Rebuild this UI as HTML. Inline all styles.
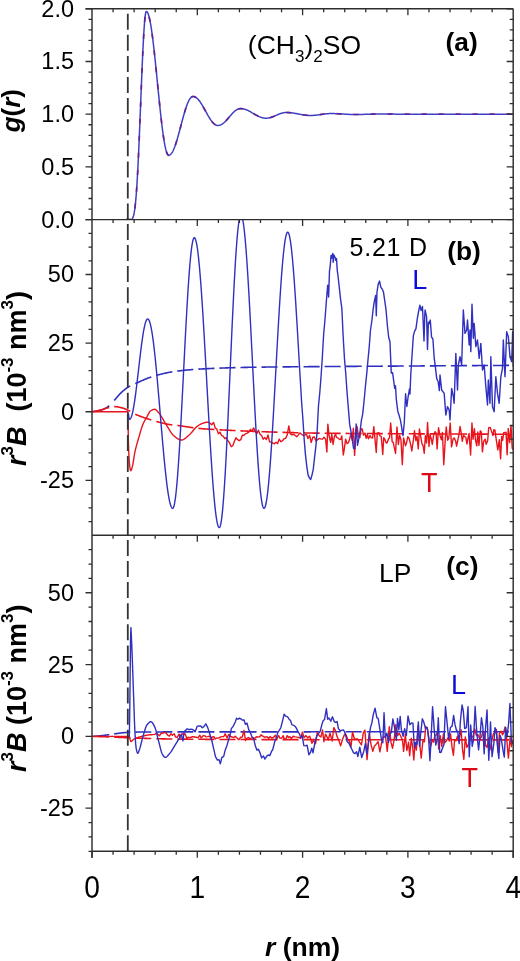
<!DOCTYPE html>
<html><head><meta charset="utf-8"><title>r3B plot</title>
<style>html,body{margin:0;padding:0;background:#fff;}svg{display:block;}</style>
</head><body>
<svg width="520" height="961" viewBox="0 0 520 961">
<rect width="520" height="961" fill="#fff"/>
<defs><clipPath id="ca"><rect x="92.0" y="8.8" width="421.20000000000005" height="210.79999999999998"/></clipPath><clipPath id="cb"><rect x="92.0" y="219.6" width="421.20000000000005" height="315.69999999999993"/></clipPath><clipPath id="cc"><rect x="92.0" y="535.3" width="421.20000000000005" height="316.0"/></clipPath></defs>
<g fill="none" stroke-linejoin="round" clip-path="url(#ca)">
<polyline points="126.00,219.60 126.44,219.60 126.88,219.60 127.31,219.60 127.75,219.60 128.19,219.60 128.62,219.60 129.06,219.60 129.50,219.60 129.90,219.60 130.30,219.59 130.70,219.57 131.10,219.50 131.50,219.35 131.90,219.09 132.30,218.67 132.70,218.03 133.10,217.12 133.50,215.89 133.90,214.28 134.30,212.22 134.70,209.68 135.10,206.59 135.50,202.92 135.90,198.64 136.30,193.72 136.70,188.14 137.10,181.92 137.50,175.05 137.90,167.56 138.30,159.49 138.70,150.89 139.10,141.82 139.50,132.36 139.90,122.59 140.30,112.60 140.70,102.51 141.10,92.41 141.50,82.43 141.90,72.69 142.30,63.30 142.70,54.37 143.10,46.03 143.50,38.39 143.90,31.54 144.30,25.58 144.70,20.58 145.10,16.62 145.50,13.75 145.90,12.02 146.30,11.44 146.71,11.55 147.11,11.90 147.52,12.49 147.93,13.30 148.34,14.35 148.74,15.62 149.15,17.11 149.56,18.82 149.97,20.73 150.37,22.85 150.78,25.17 151.19,27.68 151.59,30.37 152.00,33.24 152.41,36.26 152.82,39.44 153.22,42.77 153.63,46.22 154.04,49.80 154.45,53.49 154.85,57.27 155.26,61.14 155.67,65.08 156.07,69.08 156.48,73.13 156.89,77.21 157.30,81.32 157.70,85.42 158.11,89.53 158.52,93.61 158.93,97.66 159.33,101.66 159.74,105.60 160.15,109.47 160.55,113.25 160.96,116.94 161.37,120.52 161.78,123.97 162.18,127.30 162.59,130.48 163.00,133.51 163.41,136.37 163.81,139.06 164.22,141.57 164.63,143.89 165.03,146.01 165.44,147.93 165.85,149.63 166.26,151.12 166.66,152.39 167.07,153.44 167.48,154.25 167.89,154.84 168.29,155.19 168.70,155.31 169.10,155.27 169.51,155.14 169.91,154.94 170.32,154.66 170.72,154.30 171.13,153.87 171.53,153.35 171.94,152.76 172.34,152.10 172.75,151.37 173.16,150.56 173.56,149.69 173.97,148.75 174.37,147.75 174.77,146.69 175.18,145.58 175.58,144.41 175.99,143.18 176.39,141.92 176.80,140.60 177.20,139.25 177.61,137.86 178.01,136.44 178.42,134.99 178.82,133.51 179.23,132.01 179.63,130.50 180.04,128.97 180.44,127.44 180.85,125.90 181.25,124.36 181.66,122.83 182.06,121.30 182.47,119.79 182.88,118.29 183.28,116.81 183.69,115.36 184.09,113.94 184.50,112.55 184.90,111.20 185.31,109.88 185.71,108.61 186.12,107.39 186.52,106.22 186.93,105.11 187.33,104.05 187.73,103.05 188.14,102.11 188.54,101.24 188.95,100.43 189.35,99.70 189.76,99.04 190.16,98.45 190.57,97.93 190.97,97.49 191.38,97.14 191.78,96.85 192.19,96.65 192.59,96.53 193.00,96.49 193.40,96.51 193.81,96.57 194.21,96.66 194.61,96.79 195.02,96.96 195.42,97.16 195.82,97.39 196.23,97.67 196.63,97.97 197.03,98.31 197.44,98.69 197.84,99.09 198.24,99.52 198.65,99.99 199.05,100.48 199.45,101.00 199.85,101.55 200.26,102.11 200.66,102.71 201.06,103.32 201.47,103.95 201.87,104.60 202.27,105.27 202.68,105.95 203.08,106.65 203.48,107.35 203.89,108.07 204.29,108.79 204.69,109.52 205.10,110.25 205.50,110.99 205.90,111.72 206.31,112.45 206.71,113.18 207.11,113.90 207.52,114.62 207.92,115.32 208.32,116.02 208.73,116.70 209.13,117.37 209.53,118.02 209.94,118.65 210.34,119.26 210.74,119.86 211.15,120.43 211.55,120.97 211.95,121.49 212.35,121.98 212.76,122.45 213.16,122.88 213.56,123.28 213.97,123.66 214.37,124.00 214.77,124.30 215.18,124.58 215.58,124.81 215.98,125.02 216.39,125.18 216.79,125.31 217.19,125.40 217.60,125.46 218.00,125.48 218.40,125.46 218.80,125.42 219.21,125.36 219.61,125.27 220.01,125.15 220.41,125.00 220.81,124.84 221.21,124.64 221.62,124.43 222.02,124.19 222.42,123.92 222.82,123.64 223.22,123.33 223.62,123.01 224.03,122.66 224.43,122.30 224.83,121.93 225.23,121.53 225.63,121.12 226.04,120.70 226.44,120.27 226.84,119.83 227.24,119.38 227.64,118.92 228.04,118.46 228.45,117.99 228.85,117.52 229.25,117.05 229.65,116.57 230.05,116.10 230.46,115.63 230.86,115.17 231.26,114.71 231.66,114.26 232.06,113.82 232.46,113.39 232.87,112.97 233.27,112.56 233.67,112.17 234.07,111.79 234.47,111.43 234.88,111.08 235.28,110.76 235.68,110.45 236.08,110.17 236.48,109.91 236.88,109.67 237.29,109.45 237.69,109.26 238.09,109.09 238.49,108.94 238.89,108.83 239.29,108.73 239.70,108.67 240.10,108.63 240.50,108.61 240.90,108.62 241.31,108.64 241.71,108.67 242.12,108.71 242.52,108.76 242.93,108.83 243.33,108.90 243.74,108.99 244.14,109.09 244.55,109.20 244.95,109.32 245.36,109.45 245.76,109.59 246.17,109.74 246.57,109.89 246.98,110.06 247.38,110.24 247.79,110.42 248.19,110.61 248.60,110.81 249.00,111.01 249.40,111.22 249.81,111.44 250.21,111.66 250.62,111.88 251.02,112.11 251.43,112.34 251.83,112.58 252.24,112.81 252.64,113.05 253.05,113.29 253.45,113.53 253.86,113.77 254.26,114.01 254.67,114.24 255.07,114.48 255.48,114.71 255.88,114.94 256.29,115.16 256.69,115.38 257.10,115.60 257.50,115.81 257.90,116.01 258.31,116.21 258.71,116.40 259.12,116.58 259.52,116.76 259.93,116.92 260.33,117.08 260.74,117.23 261.14,117.37 261.55,117.50 261.95,117.62 262.36,117.73 262.76,117.83 263.17,117.92 263.57,117.99 263.98,118.06 264.38,118.11 264.79,118.15 265.19,118.18 265.60,118.20 266.00,118.21 266.41,118.20 266.81,118.18 267.22,118.15 267.62,118.12 268.03,118.07 268.44,118.01 268.84,117.93 269.25,117.85 269.65,117.76 270.06,117.66 270.47,117.55 270.87,117.43 271.28,117.31 271.68,117.17 272.09,117.03 272.50,116.88 272.90,116.73 273.31,116.57 273.71,116.41 274.12,116.24 274.53,116.07 274.93,115.89 275.34,115.72 275.74,115.54 276.15,115.36 276.56,115.18 276.96,115.00 277.37,114.83 277.77,114.65 278.18,114.48 278.59,114.31 278.99,114.15 279.40,113.99 279.80,113.83 280.21,113.69 280.62,113.55 281.02,113.41 281.43,113.28 281.83,113.17 282.24,113.06 282.65,112.96 283.05,112.87 283.46,112.78 283.86,112.71 284.27,112.65 284.68,112.60 285.08,112.56 285.49,112.54 285.89,112.52 286.30,112.51 286.70,112.52 287.11,112.52 287.51,112.53 287.92,112.55 288.32,112.56 288.73,112.59 289.13,112.61 289.54,112.64 289.94,112.67 290.35,112.71 290.75,112.75 291.16,112.80 291.56,112.84 291.97,112.89 292.38,112.95 292.78,113.00 293.19,113.06 293.59,113.12 294.00,113.19 294.40,113.25 294.81,113.32 295.21,113.39 295.62,113.46 296.02,113.53 296.43,113.61 296.83,113.68 297.24,113.76 297.64,113.83 298.05,113.91 298.45,113.99 298.86,114.07 299.26,114.14 299.67,114.22 300.07,114.30 300.48,114.37 300.88,114.45 301.29,114.52 301.69,114.59 302.10,114.66 302.50,114.73 302.91,114.79 303.31,114.86 303.72,114.92 304.12,114.98 304.53,115.03 304.93,115.09 305.34,115.14 305.74,115.18 306.15,115.23 306.55,115.27 306.96,115.30 307.36,115.34 307.77,115.37 308.17,115.39 308.58,115.41 308.98,115.43 309.38,115.45 309.79,115.46 310.20,115.46 310.60,115.46 311.01,115.46 311.42,115.46 311.82,115.45 312.23,115.43 312.64,115.42 313.05,115.40 313.46,115.37 313.86,115.35 314.27,115.32 314.68,115.28 315.09,115.25 315.50,115.21 315.90,115.17 316.31,115.12 316.72,115.07 317.13,115.02 317.54,114.97 317.94,114.92 318.35,114.87 318.76,114.81 319.17,114.75 319.58,114.69 319.98,114.64 320.39,114.58 320.80,114.52 321.21,114.46 321.62,114.40 322.02,114.34 322.43,114.28 322.84,114.22 323.25,114.17 323.66,114.11 324.06,114.06 324.47,114.01 324.88,113.96 325.29,113.91 325.70,113.87 326.10,113.82 326.51,113.79 326.92,113.75 327.33,113.72 327.74,113.68 328.14,113.66 328.55,113.63 328.96,113.61 329.37,113.60 329.78,113.58 330.18,113.58 330.59,113.57 331.00,113.57 331.40,113.57 331.80,113.57 332.20,113.57 332.60,113.58 333.00,113.58 333.40,113.59 333.80,113.60 334.20,113.61 334.60,113.62 335.00,113.63 335.40,113.64 335.80,113.66 336.20,113.67 336.60,113.69 337.00,113.71 337.40,113.72 337.80,113.74 338.20,113.76 338.60,113.78 339.00,113.80 339.40,113.83 339.80,113.85 340.20,113.87 340.60,113.90 341.00,113.92 341.40,113.94 341.80,113.97 342.20,113.99 342.60,114.02 343.00,114.04 343.40,114.07 343.80,114.09 344.20,114.12 344.60,114.14 345.00,114.16 345.40,114.19 345.80,114.21 346.20,114.23 346.60,114.26 347.00,114.28 347.40,114.30 347.80,114.32 348.20,114.34 348.60,114.36 349.00,114.38 349.40,114.39 349.80,114.41 350.20,114.43 350.60,114.44 351.00,114.45 351.40,114.46 351.80,114.48 352.20,114.48 352.60,114.49 353.00,114.50 353.40,114.51 353.80,114.51 354.20,114.51 354.60,114.52 355.00,114.52 355.40,114.52 355.81,114.51 356.21,114.51 356.61,114.51 357.02,114.51 357.42,114.50 357.82,114.50 358.23,114.49 358.63,114.49 359.03,114.48 359.44,114.48 359.84,114.47 360.24,114.46 360.65,114.45 361.05,114.44 361.45,114.43 361.85,114.42 362.26,114.41 362.66,114.40 363.06,114.39 363.47,114.38 363.87,114.37 364.27,114.36 364.68,114.34 365.08,114.33 365.48,114.32 365.89,114.31 366.29,114.29 366.69,114.28 367.10,114.27 367.50,114.25 367.90,114.24 368.31,114.23 368.71,114.21 369.11,114.20 369.52,114.19 369.92,114.17 370.32,114.16 370.73,114.15 371.13,114.14 371.53,114.12 371.94,114.11 372.34,114.10 372.74,114.09 373.15,114.08 373.55,114.07 373.95,114.06 374.35,114.05 374.76,114.04 375.16,114.04 375.56,114.03 375.97,114.02 376.37,114.02 376.77,114.01 377.18,114.01 377.58,114.00 377.98,114.00 378.39,113.99 378.79,113.99 379.19,113.99 379.60,113.99 380.00,113.99 380.40,113.99 380.81,113.99 381.21,113.99 381.61,113.99 382.02,113.99 382.42,113.99 382.82,114.00 383.23,114.00 383.63,114.00 384.03,114.00 384.44,114.01 384.84,114.01 385.24,114.01 385.65,114.01 386.05,114.02 386.45,114.02 386.85,114.03 387.26,114.03 387.66,114.03 388.06,114.04 388.47,114.04 388.87,114.05 389.27,114.05 389.68,114.06 390.08,114.06 390.48,114.07 390.89,114.07 391.29,114.08 391.69,114.08 392.10,114.09 392.50,114.09 392.90,114.10 393.31,114.11 393.71,114.11 394.11,114.12 394.52,114.12 394.92,114.13 395.32,114.13 395.73,114.14 396.13,114.14 396.53,114.15 396.94,114.15 397.34,114.15 397.74,114.16 398.15,114.16 398.55,114.17 398.95,114.17 399.35,114.17 399.76,114.18 400.16,114.18 400.56,114.18 400.97,114.19 401.37,114.19 401.77,114.19 402.18,114.19 402.58,114.20 402.98,114.20 403.39,114.20 403.79,114.20 404.19,114.20 404.60,114.20 405.00,114.20 405.40,114.20 405.80,114.20 406.20,114.20 406.60,114.20 407.00,114.20 407.40,114.20 407.81,114.20 408.21,114.20 408.61,114.20 409.01,114.20 409.41,114.20 409.81,114.20 410.21,114.20 410.61,114.20 411.01,114.20 411.41,114.20 411.81,114.20 412.21,114.20 412.61,114.20 413.01,114.20 413.42,114.20 413.82,114.20 414.22,114.20 414.62,114.20 415.02,114.20 415.42,114.20 415.82,114.20 416.22,114.20 416.62,114.20 417.02,114.20 417.42,114.20 417.82,114.20 418.22,114.20 418.63,114.20 419.03,114.20 419.43,114.20 419.83,114.20 420.23,114.20 420.63,114.20 421.03,114.20 421.43,114.20 421.83,114.20 422.23,114.20 422.63,114.20 423.03,114.20 423.43,114.20 423.83,114.20 424.24,114.20 424.64,114.20 425.04,114.20 425.44,114.20 425.84,114.20 426.24,114.20 426.64,114.20 427.04,114.20 427.44,114.20 427.84,114.20 428.24,114.20 428.64,114.20 429.04,114.20 429.45,114.20 429.85,114.20 430.25,114.20 430.65,114.20 431.05,114.20 431.45,114.20 431.85,114.20 432.25,114.20 432.65,114.20 433.05,114.20 433.45,114.20 433.85,114.20 434.25,114.20 434.65,114.20 435.06,114.20 435.46,114.20 435.86,114.20 436.26,114.20 436.66,114.20 437.06,114.20 437.46,114.20 437.86,114.20 438.26,114.20 438.66,114.20 439.06,114.20 439.46,114.20 439.86,114.20 440.27,114.20 440.67,114.20 441.07,114.20 441.47,114.20 441.87,114.20 442.27,114.20 442.67,114.20 443.07,114.20 443.47,114.20 443.87,114.20 444.27,114.20 444.67,114.20 445.07,114.20 445.47,114.20 445.88,114.20 446.28,114.20 446.68,114.20 447.08,114.20 447.48,114.20 447.88,114.20 448.28,114.20 448.68,114.20 449.08,114.20 449.48,114.20 449.88,114.20 450.28,114.20 450.68,114.20 451.09,114.20 451.49,114.20 451.89,114.20 452.29,114.20 452.69,114.20 453.09,114.20 453.49,114.20 453.89,114.20 454.29,114.20 454.69,114.20 455.09,114.20 455.49,114.20 455.89,114.20 456.29,114.20 456.70,114.20 457.10,114.20 457.50,114.20 457.90,114.20 458.30,114.20 458.70,114.20 459.10,114.20 459.50,114.20 459.90,114.20 460.30,114.20 460.70,114.20 461.10,114.20 461.50,114.20 461.91,114.20 462.31,114.20 462.71,114.20 463.11,114.20 463.51,114.20 463.91,114.20 464.31,114.20 464.71,114.20 465.11,114.20 465.51,114.20 465.91,114.20 466.31,114.20 466.71,114.20 467.11,114.20 467.52,114.20 467.92,114.20 468.32,114.20 468.72,114.20 469.12,114.20 469.52,114.20 469.92,114.20 470.32,114.20 470.72,114.20 471.12,114.20 471.52,114.20 471.92,114.20 472.32,114.20 472.73,114.20 473.13,114.20 473.53,114.20 473.93,114.20 474.33,114.20 474.73,114.20 475.13,114.20 475.53,114.20 475.93,114.20 476.33,114.20 476.73,114.20 477.13,114.20 477.53,114.20 477.93,114.20 478.34,114.20 478.74,114.20 479.14,114.20 479.54,114.20 479.94,114.20 480.34,114.20 480.74,114.20 481.14,114.20 481.54,114.20 481.94,114.20 482.34,114.20 482.74,114.20 483.14,114.20 483.55,114.20 483.95,114.20 484.35,114.20 484.75,114.20 485.15,114.20 485.55,114.20 485.95,114.20 486.35,114.20 486.75,114.20 487.15,114.20 487.55,114.20 487.95,114.20 488.35,114.20 488.75,114.20 489.16,114.20 489.56,114.20 489.96,114.20 490.36,114.20 490.76,114.20 491.16,114.20 491.56,114.20 491.96,114.20 492.36,114.20 492.76,114.20 493.16,114.20 493.56,114.20 493.96,114.20 494.37,114.20 494.77,114.20 495.17,114.20 495.57,114.20 495.97,114.20 496.37,114.20 496.77,114.20 497.17,114.20 497.57,114.20 497.97,114.20 498.37,114.20 498.77,114.20 499.17,114.20 499.57,114.20 499.98,114.20 500.38,114.20 500.78,114.20 501.18,114.20 501.58,114.20 501.98,114.20 502.38,114.20 502.78,114.20 503.18,114.20 503.58,114.20 503.98,114.20 504.38,114.20 504.78,114.20 505.19,114.20 505.59,114.20 505.99,114.20 506.39,114.20 506.79,114.20 507.19,114.20 507.59,114.20 507.99,114.20 508.39,114.20 508.79,114.20 509.19,114.20 509.59,114.20 509.99,114.20 510.39,114.20 510.80,114.20 511.20,114.20 511.60,114.20 512.00,114.20 512.40,114.20 512.80,114.20 513.20,114.20" stroke="#e8141c" stroke-width="1.7" stroke-dasharray="5 12"/>
<polyline points="126.00,219.60 126.44,219.60 126.88,219.60 127.31,219.60 127.75,219.60 128.19,219.60 128.62,219.60 129.06,219.60 129.50,219.60 129.90,219.60 130.30,219.59 130.70,219.57 131.10,219.50 131.50,219.35 131.90,219.09 132.30,218.67 132.70,218.03 133.10,217.12 133.50,215.89 133.90,214.28 134.30,212.22 134.70,209.68 135.10,206.59 135.50,202.92 135.90,198.64 136.30,193.72 136.70,188.14 137.10,181.92 137.50,175.05 137.90,167.56 138.30,159.49 138.70,150.89 139.10,141.82 139.50,132.36 139.90,122.59 140.30,112.60 140.70,102.51 141.10,92.41 141.50,82.43 141.90,72.69 142.30,63.30 142.70,54.37 143.10,46.03 143.50,38.39 143.90,31.54 144.30,25.58 144.70,20.58 145.10,16.62 145.50,13.75 145.90,12.02 146.30,11.44 146.71,11.55 147.11,11.90 147.52,12.49 147.93,13.30 148.34,14.35 148.74,15.62 149.15,17.11 149.56,18.82 149.97,20.73 150.37,22.85 150.78,25.17 151.19,27.68 151.59,30.37 152.00,33.24 152.41,36.26 152.82,39.44 153.22,42.77 153.63,46.22 154.04,49.80 154.45,53.49 154.85,57.27 155.26,61.14 155.67,65.08 156.07,69.08 156.48,73.13 156.89,77.21 157.30,81.32 157.70,85.42 158.11,89.53 158.52,93.61 158.93,97.66 159.33,101.66 159.74,105.60 160.15,109.47 160.55,113.25 160.96,116.94 161.37,120.52 161.78,123.97 162.18,127.30 162.59,130.48 163.00,133.51 163.41,136.37 163.81,139.06 164.22,141.57 164.63,143.89 165.03,146.01 165.44,147.93 165.85,149.63 166.26,151.12 166.66,152.39 167.07,153.44 167.48,154.25 167.89,154.84 168.29,155.19 168.70,155.31 169.10,155.27 169.51,155.14 169.91,154.94 170.32,154.66 170.72,154.30 171.13,153.87 171.53,153.35 171.94,152.76 172.34,152.10 172.75,151.37 173.16,150.56 173.56,149.69 173.97,148.75 174.37,147.75 174.77,146.69 175.18,145.58 175.58,144.41 175.99,143.18 176.39,141.92 176.80,140.60 177.20,139.25 177.61,137.86 178.01,136.44 178.42,134.99 178.82,133.51 179.23,132.01 179.63,130.50 180.04,128.97 180.44,127.44 180.85,125.90 181.25,124.36 181.66,122.83 182.06,121.30 182.47,119.79 182.88,118.29 183.28,116.81 183.69,115.36 184.09,113.94 184.50,112.55 184.90,111.20 185.31,109.88 185.71,108.61 186.12,107.39 186.52,106.22 186.93,105.11 187.33,104.05 187.73,103.05 188.14,102.11 188.54,101.24 188.95,100.43 189.35,99.70 189.76,99.04 190.16,98.45 190.57,97.93 190.97,97.49 191.38,97.14 191.78,96.85 192.19,96.65 192.59,96.53 193.00,96.49 193.40,96.51 193.81,96.57 194.21,96.66 194.61,96.79 195.02,96.96 195.42,97.16 195.82,97.39 196.23,97.67 196.63,97.97 197.03,98.31 197.44,98.69 197.84,99.09 198.24,99.52 198.65,99.99 199.05,100.48 199.45,101.00 199.85,101.55 200.26,102.11 200.66,102.71 201.06,103.32 201.47,103.95 201.87,104.60 202.27,105.27 202.68,105.95 203.08,106.65 203.48,107.35 203.89,108.07 204.29,108.79 204.69,109.52 205.10,110.25 205.50,110.99 205.90,111.72 206.31,112.45 206.71,113.18 207.11,113.90 207.52,114.62 207.92,115.32 208.32,116.02 208.73,116.70 209.13,117.37 209.53,118.02 209.94,118.65 210.34,119.26 210.74,119.86 211.15,120.43 211.55,120.97 211.95,121.49 212.35,121.98 212.76,122.45 213.16,122.88 213.56,123.28 213.97,123.66 214.37,124.00 214.77,124.30 215.18,124.58 215.58,124.81 215.98,125.02 216.39,125.18 216.79,125.31 217.19,125.40 217.60,125.46 218.00,125.48 218.40,125.46 218.80,125.42 219.21,125.36 219.61,125.27 220.01,125.15 220.41,125.00 220.81,124.84 221.21,124.64 221.62,124.43 222.02,124.19 222.42,123.92 222.82,123.64 223.22,123.33 223.62,123.01 224.03,122.66 224.43,122.30 224.83,121.93 225.23,121.53 225.63,121.12 226.04,120.70 226.44,120.27 226.84,119.83 227.24,119.38 227.64,118.92 228.04,118.46 228.45,117.99 228.85,117.52 229.25,117.05 229.65,116.57 230.05,116.10 230.46,115.63 230.86,115.17 231.26,114.71 231.66,114.26 232.06,113.82 232.46,113.39 232.87,112.97 233.27,112.56 233.67,112.17 234.07,111.79 234.47,111.43 234.88,111.08 235.28,110.76 235.68,110.45 236.08,110.17 236.48,109.91 236.88,109.67 237.29,109.45 237.69,109.26 238.09,109.09 238.49,108.94 238.89,108.83 239.29,108.73 239.70,108.67 240.10,108.63 240.50,108.61 240.90,108.62 241.31,108.64 241.71,108.67 242.12,108.71 242.52,108.76 242.93,108.83 243.33,108.90 243.74,108.99 244.14,109.09 244.55,109.20 244.95,109.32 245.36,109.45 245.76,109.59 246.17,109.74 246.57,109.89 246.98,110.06 247.38,110.24 247.79,110.42 248.19,110.61 248.60,110.81 249.00,111.01 249.40,111.22 249.81,111.44 250.21,111.66 250.62,111.88 251.02,112.11 251.43,112.34 251.83,112.58 252.24,112.81 252.64,113.05 253.05,113.29 253.45,113.53 253.86,113.77 254.26,114.01 254.67,114.24 255.07,114.48 255.48,114.71 255.88,114.94 256.29,115.16 256.69,115.38 257.10,115.60 257.50,115.81 257.90,116.01 258.31,116.21 258.71,116.40 259.12,116.58 259.52,116.76 259.93,116.92 260.33,117.08 260.74,117.23 261.14,117.37 261.55,117.50 261.95,117.62 262.36,117.73 262.76,117.83 263.17,117.92 263.57,117.99 263.98,118.06 264.38,118.11 264.79,118.15 265.19,118.18 265.60,118.20 266.00,118.21 266.41,118.20 266.81,118.18 267.22,118.15 267.62,118.12 268.03,118.07 268.44,118.01 268.84,117.93 269.25,117.85 269.65,117.76 270.06,117.66 270.47,117.55 270.87,117.43 271.28,117.31 271.68,117.17 272.09,117.03 272.50,116.88 272.90,116.73 273.31,116.57 273.71,116.41 274.12,116.24 274.53,116.07 274.93,115.89 275.34,115.72 275.74,115.54 276.15,115.36 276.56,115.18 276.96,115.00 277.37,114.83 277.77,114.65 278.18,114.48 278.59,114.31 278.99,114.15 279.40,113.99 279.80,113.83 280.21,113.69 280.62,113.55 281.02,113.41 281.43,113.28 281.83,113.17 282.24,113.06 282.65,112.96 283.05,112.87 283.46,112.78 283.86,112.71 284.27,112.65 284.68,112.60 285.08,112.56 285.49,112.54 285.89,112.52 286.30,112.51 286.70,112.52 287.11,112.52 287.51,112.53 287.92,112.55 288.32,112.56 288.73,112.59 289.13,112.61 289.54,112.64 289.94,112.67 290.35,112.71 290.75,112.75 291.16,112.80 291.56,112.84 291.97,112.89 292.38,112.95 292.78,113.00 293.19,113.06 293.59,113.12 294.00,113.19 294.40,113.25 294.81,113.32 295.21,113.39 295.62,113.46 296.02,113.53 296.43,113.61 296.83,113.68 297.24,113.76 297.64,113.83 298.05,113.91 298.45,113.99 298.86,114.07 299.26,114.14 299.67,114.22 300.07,114.30 300.48,114.37 300.88,114.45 301.29,114.52 301.69,114.59 302.10,114.66 302.50,114.73 302.91,114.79 303.31,114.86 303.72,114.92 304.12,114.98 304.53,115.03 304.93,115.09 305.34,115.14 305.74,115.18 306.15,115.23 306.55,115.27 306.96,115.30 307.36,115.34 307.77,115.37 308.17,115.39 308.58,115.41 308.98,115.43 309.38,115.45 309.79,115.46 310.20,115.46 310.60,115.46 311.01,115.46 311.42,115.46 311.82,115.45 312.23,115.43 312.64,115.42 313.05,115.40 313.46,115.37 313.86,115.35 314.27,115.32 314.68,115.28 315.09,115.25 315.50,115.21 315.90,115.17 316.31,115.12 316.72,115.07 317.13,115.02 317.54,114.97 317.94,114.92 318.35,114.87 318.76,114.81 319.17,114.75 319.58,114.69 319.98,114.64 320.39,114.58 320.80,114.52 321.21,114.46 321.62,114.40 322.02,114.34 322.43,114.28 322.84,114.22 323.25,114.17 323.66,114.11 324.06,114.06 324.47,114.01 324.88,113.96 325.29,113.91 325.70,113.87 326.10,113.82 326.51,113.79 326.92,113.75 327.33,113.72 327.74,113.68 328.14,113.66 328.55,113.63 328.96,113.61 329.37,113.60 329.78,113.58 330.18,113.58 330.59,113.57 331.00,113.57 331.40,113.57 331.80,113.57 332.20,113.57 332.60,113.58 333.00,113.58 333.40,113.59 333.80,113.60 334.20,113.61 334.60,113.62 335.00,113.63 335.40,113.64 335.80,113.66 336.20,113.67 336.60,113.69 337.00,113.71 337.40,113.72 337.80,113.74 338.20,113.76 338.60,113.78 339.00,113.80 339.40,113.83 339.80,113.85 340.20,113.87 340.60,113.90 341.00,113.92 341.40,113.94 341.80,113.97 342.20,113.99 342.60,114.02 343.00,114.04 343.40,114.07 343.80,114.09 344.20,114.12 344.60,114.14 345.00,114.16 345.40,114.19 345.80,114.21 346.20,114.23 346.60,114.26 347.00,114.28 347.40,114.30 347.80,114.32 348.20,114.34 348.60,114.36 349.00,114.38 349.40,114.39 349.80,114.41 350.20,114.43 350.60,114.44 351.00,114.45 351.40,114.46 351.80,114.48 352.20,114.48 352.60,114.49 353.00,114.50 353.40,114.51 353.80,114.51 354.20,114.51 354.60,114.52 355.00,114.52 355.40,114.52 355.81,114.51 356.21,114.51 356.61,114.51 357.02,114.51 357.42,114.50 357.82,114.50 358.23,114.49 358.63,114.49 359.03,114.48 359.44,114.48 359.84,114.47 360.24,114.46 360.65,114.45 361.05,114.44 361.45,114.43 361.85,114.42 362.26,114.41 362.66,114.40 363.06,114.39 363.47,114.38 363.87,114.37 364.27,114.36 364.68,114.34 365.08,114.33 365.48,114.32 365.89,114.31 366.29,114.29 366.69,114.28 367.10,114.27 367.50,114.25 367.90,114.24 368.31,114.23 368.71,114.21 369.11,114.20 369.52,114.19 369.92,114.17 370.32,114.16 370.73,114.15 371.13,114.14 371.53,114.12 371.94,114.11 372.34,114.10 372.74,114.09 373.15,114.08 373.55,114.07 373.95,114.06 374.35,114.05 374.76,114.04 375.16,114.04 375.56,114.03 375.97,114.02 376.37,114.02 376.77,114.01 377.18,114.01 377.58,114.00 377.98,114.00 378.39,113.99 378.79,113.99 379.19,113.99 379.60,113.99 380.00,113.99 380.40,113.99 380.81,113.99 381.21,113.99 381.61,113.99 382.02,113.99 382.42,113.99 382.82,114.00 383.23,114.00 383.63,114.00 384.03,114.00 384.44,114.01 384.84,114.01 385.24,114.01 385.65,114.01 386.05,114.02 386.45,114.02 386.85,114.03 387.26,114.03 387.66,114.03 388.06,114.04 388.47,114.04 388.87,114.05 389.27,114.05 389.68,114.06 390.08,114.06 390.48,114.07 390.89,114.07 391.29,114.08 391.69,114.08 392.10,114.09 392.50,114.09 392.90,114.10 393.31,114.11 393.71,114.11 394.11,114.12 394.52,114.12 394.92,114.13 395.32,114.13 395.73,114.14 396.13,114.14 396.53,114.15 396.94,114.15 397.34,114.15 397.74,114.16 398.15,114.16 398.55,114.17 398.95,114.17 399.35,114.17 399.76,114.18 400.16,114.18 400.56,114.18 400.97,114.19 401.37,114.19 401.77,114.19 402.18,114.19 402.58,114.20 402.98,114.20 403.39,114.20 403.79,114.20 404.19,114.20 404.60,114.20 405.00,114.20 405.40,114.20 405.80,114.20 406.20,114.20 406.60,114.20 407.00,114.20 407.40,114.20 407.81,114.20 408.21,114.20 408.61,114.20 409.01,114.20 409.41,114.20 409.81,114.20 410.21,114.20 410.61,114.20 411.01,114.20 411.41,114.20 411.81,114.20 412.21,114.20 412.61,114.20 413.01,114.20 413.42,114.20 413.82,114.20 414.22,114.20 414.62,114.20 415.02,114.20 415.42,114.20 415.82,114.20 416.22,114.20 416.62,114.20 417.02,114.20 417.42,114.20 417.82,114.20 418.22,114.20 418.63,114.20 419.03,114.20 419.43,114.20 419.83,114.20 420.23,114.20 420.63,114.20 421.03,114.20 421.43,114.20 421.83,114.20 422.23,114.20 422.63,114.20 423.03,114.20 423.43,114.20 423.83,114.20 424.24,114.20 424.64,114.20 425.04,114.20 425.44,114.20 425.84,114.20 426.24,114.20 426.64,114.20 427.04,114.20 427.44,114.20 427.84,114.20 428.24,114.20 428.64,114.20 429.04,114.20 429.45,114.20 429.85,114.20 430.25,114.20 430.65,114.20 431.05,114.20 431.45,114.20 431.85,114.20 432.25,114.20 432.65,114.20 433.05,114.20 433.45,114.20 433.85,114.20 434.25,114.20 434.65,114.20 435.06,114.20 435.46,114.20 435.86,114.20 436.26,114.20 436.66,114.20 437.06,114.20 437.46,114.20 437.86,114.20 438.26,114.20 438.66,114.20 439.06,114.20 439.46,114.20 439.86,114.20 440.27,114.20 440.67,114.20 441.07,114.20 441.47,114.20 441.87,114.20 442.27,114.20 442.67,114.20 443.07,114.20 443.47,114.20 443.87,114.20 444.27,114.20 444.67,114.20 445.07,114.20 445.47,114.20 445.88,114.20 446.28,114.20 446.68,114.20 447.08,114.20 447.48,114.20 447.88,114.20 448.28,114.20 448.68,114.20 449.08,114.20 449.48,114.20 449.88,114.20 450.28,114.20 450.68,114.20 451.09,114.20 451.49,114.20 451.89,114.20 452.29,114.20 452.69,114.20 453.09,114.20 453.49,114.20 453.89,114.20 454.29,114.20 454.69,114.20 455.09,114.20 455.49,114.20 455.89,114.20 456.29,114.20 456.70,114.20 457.10,114.20 457.50,114.20 457.90,114.20 458.30,114.20 458.70,114.20 459.10,114.20 459.50,114.20 459.90,114.20 460.30,114.20 460.70,114.20 461.10,114.20 461.50,114.20 461.91,114.20 462.31,114.20 462.71,114.20 463.11,114.20 463.51,114.20 463.91,114.20 464.31,114.20 464.71,114.20 465.11,114.20 465.51,114.20 465.91,114.20 466.31,114.20 466.71,114.20 467.11,114.20 467.52,114.20 467.92,114.20 468.32,114.20 468.72,114.20 469.12,114.20 469.52,114.20 469.92,114.20 470.32,114.20 470.72,114.20 471.12,114.20 471.52,114.20 471.92,114.20 472.32,114.20 472.73,114.20 473.13,114.20 473.53,114.20 473.93,114.20 474.33,114.20 474.73,114.20 475.13,114.20 475.53,114.20 475.93,114.20 476.33,114.20 476.73,114.20 477.13,114.20 477.53,114.20 477.93,114.20 478.34,114.20 478.74,114.20 479.14,114.20 479.54,114.20 479.94,114.20 480.34,114.20 480.74,114.20 481.14,114.20 481.54,114.20 481.94,114.20 482.34,114.20 482.74,114.20 483.14,114.20 483.55,114.20 483.95,114.20 484.35,114.20 484.75,114.20 485.15,114.20 485.55,114.20 485.95,114.20 486.35,114.20 486.75,114.20 487.15,114.20 487.55,114.20 487.95,114.20 488.35,114.20 488.75,114.20 489.16,114.20 489.56,114.20 489.96,114.20 490.36,114.20 490.76,114.20 491.16,114.20 491.56,114.20 491.96,114.20 492.36,114.20 492.76,114.20 493.16,114.20 493.56,114.20 493.96,114.20 494.37,114.20 494.77,114.20 495.17,114.20 495.57,114.20 495.97,114.20 496.37,114.20 496.77,114.20 497.17,114.20 497.57,114.20 497.97,114.20 498.37,114.20 498.77,114.20 499.17,114.20 499.57,114.20 499.98,114.20 500.38,114.20 500.78,114.20 501.18,114.20 501.58,114.20 501.98,114.20 502.38,114.20 502.78,114.20 503.18,114.20 503.58,114.20 503.98,114.20 504.38,114.20 504.78,114.20 505.19,114.20 505.59,114.20 505.99,114.20 506.39,114.20 506.79,114.20 507.19,114.20 507.59,114.20 507.99,114.20 508.39,114.20 508.79,114.20 509.19,114.20 509.59,114.20 509.99,114.20 510.39,114.20 510.80,114.20 511.20,114.20 511.60,114.20 512.00,114.20 512.40,114.20 512.80,114.20 513.20,114.20" stroke="#2f2fc0" stroke-width="1.5" opacity="0.92"/>
</g>
<g fill="none" stroke-linejoin="round" clip-path="url(#cb)">
<path d="M93.19,411.65 L93.50,411.62 L94.00,411.55 L94.50,411.49 L95.00,411.41 L95.50,411.33 L96.00,411.25 L96.50,411.17 L97.00,411.08 L97.50,410.99 L98.00,410.89 L98.50,410.78 L99.00,410.67 L99.50,410.54 L100.00,410.41 L100.50,410.28 L101.00,410.13 L101.50,409.97 L102.00,409.81 L102.50,409.63 L103.00,409.44 L103.50,409.23 L104.00,409.00 L104.50,408.76 L105.00,408.50 L105.50,408.22 L106.00,407.93 L106.50,407.62 L107.00,407.30 L107.50,406.97 L108.00,406.63 L108.50,406.27 L109.00,405.89 L109.23,405.70 M114.23,400.42 L114.50,400.12 L115.00,399.58 L115.50,399.02 L116.00,398.44 L116.50,397.85 L117.00,397.26 L117.50,396.66 L118.00,396.07 L118.50,395.48 L119.00,394.91 L119.50,394.35 L120.00,393.82 L120.50,393.30 L121.00,392.82 L121.50,392.36 L122.00,391.91 L122.50,391.46 L123.00,391.02 L123.50,390.59 L124.00,390.17 L124.50,389.76 L125.00,389.36 L125.50,388.97 L126.00,388.60 L126.50,388.24 L127.00,387.89 L127.50,387.55 L128.00,387.23 L128.50,386.92 L129.00,386.63 L129.50,386.35 L130.00,386.08 L130.27,385.94 M135.27,383.63 L135.50,383.53 L136.00,383.30 L136.50,383.08 L137.00,382.86 L137.50,382.63 L138.00,382.40 L138.50,382.18 L139.00,381.95 L139.50,381.73 L140.00,381.50 L140.50,381.28 L141.00,381.05 L141.50,380.83 L142.00,380.61 L142.50,380.39 L143.00,380.17 L143.50,379.95 L144.00,379.74 L144.50,379.53 L145.00,379.32 L145.50,379.11 L146.00,378.91 L146.50,378.71 L147.00,378.51 L147.50,378.31 L148.00,378.12 L148.50,377.93 L149.00,377.75 L149.50,377.57 L150.00,377.40 L150.50,377.23 L151.00,377.06 L151.31,376.96 M156.31,375.44 L156.50,375.39 L157.00,375.24 L157.50,375.10 L158.00,374.96 L158.50,374.82 L159.00,374.69 L159.50,374.55 L160.00,374.42 L160.50,374.29 L161.00,374.16 L161.50,374.03 L162.00,373.91 L162.50,373.78 L163.00,373.66 L163.50,373.55 L164.00,373.43 L164.50,373.32 L165.00,373.20 L165.50,373.10 L166.00,372.99 L166.50,372.89 L167.00,372.78 L167.50,372.69 L168.00,372.59 L168.50,372.50 L169.00,372.41 L169.50,372.32 L170.00,372.23 L170.50,372.15 L171.00,372.07 L171.50,371.99 L172.00,371.91 L172.35,371.85 M177.35,371.12 L177.50,371.10 L178.00,371.03 L178.50,370.97 L179.00,370.90 L179.50,370.84 L180.00,370.78 L180.50,370.72 L181.00,370.66 L181.50,370.60 L182.00,370.54 L182.50,370.48 L183.00,370.42 L183.50,370.37 L184.00,370.32 L184.50,370.26 L185.00,370.21 L185.50,370.16 L186.00,370.11 L186.50,370.07 L187.00,370.02 L187.50,369.97 L188.00,369.93 L188.50,369.89 L189.00,369.84 L189.50,369.80 L190.00,369.76 L190.50,369.72 L191.00,369.69 L191.50,369.65 L192.00,369.61 L192.50,369.57 L193.00,369.54 L193.39,369.51 M198.39,369.17 L198.50,369.16 L199.00,369.13 L199.50,369.10 L200.00,369.07 L200.50,369.04 L201.00,369.01 L201.50,368.98 L202.00,368.95 L202.50,368.92 L203.00,368.89 L203.50,368.87 L204.00,368.84 L204.50,368.81 L205.00,368.78 L205.50,368.76 L206.00,368.73 L206.50,368.71 L207.00,368.68 L207.50,368.65 L208.00,368.63 L208.50,368.60 L209.00,368.58 L209.50,368.56 L210.00,368.53 L210.50,368.51 L211.00,368.49 L211.50,368.46 L212.00,368.44 L212.50,368.42 L213.00,368.40 L213.50,368.37 L214.00,368.35 L214.43,368.34 M219.43,368.14 L219.50,368.13 L220.00,368.12 L220.50,368.10 L221.00,368.08 L221.50,368.06 L222.00,368.04 L222.50,368.03 L223.00,368.01 L223.50,367.99 L224.00,367.97 L224.50,367.96 L225.00,367.94 L225.50,367.92 L226.00,367.91 L226.50,367.89 L227.00,367.87 L227.50,367.86 L228.00,367.84 L228.50,367.82 L229.00,367.81 L229.50,367.79 L230.00,367.78 L230.50,367.76 L231.00,367.75 L231.50,367.73 L232.00,367.72 L232.50,367.70 L233.00,367.69 L233.50,367.67 L234.00,367.66 L234.50,367.64 L235.00,367.63 L235.47,367.62 M240.47,367.49 L240.50,367.49 L241.00,367.47 L241.50,367.46 L242.00,367.45 L242.50,367.44 L243.00,367.43 L243.50,367.42 L244.00,367.41 L244.50,367.40 L245.00,367.38 L245.50,367.37 L246.00,367.36 L246.50,367.35 L247.00,367.35 L247.50,367.34 L248.00,367.33 L248.50,367.32 L249.00,367.31 L249.50,367.30 L250.00,367.29 L250.50,367.28 L251.00,367.28 L251.50,367.27 L252.00,367.26 L252.50,367.25 L253.00,367.25 L253.50,367.24 L254.00,367.23 L254.50,367.22 L255.00,367.22 L255.50,367.21 L256.00,367.20 L256.50,367.19 L256.51,367.19 M261.51,367.13 L262.00,367.12 L262.50,367.11 L263.00,367.11 L263.50,367.10 L264.00,367.09 L264.50,367.09 L265.00,367.08 L265.50,367.08 L266.00,367.07 L266.50,367.06 L267.00,367.06 L267.50,367.05 L268.00,367.05 L268.50,367.04 L269.00,367.04 L269.50,367.03 L270.00,367.02 L270.50,367.02 L271.00,367.01 L271.50,367.01 L272.00,367.00 L272.50,367.00 L273.00,366.99 L273.50,366.99 L274.00,366.98 L274.50,366.98 L275.00,366.97 L275.50,366.97 L276.00,366.96 L276.50,366.96 L277.00,366.95 L277.50,366.95 L277.55,366.95 M282.55,366.90 L283.00,366.89 L283.50,366.89 L284.00,366.88 L284.50,366.88 L285.00,366.87 L285.50,366.87 L286.00,366.87 L286.50,366.86 L287.00,366.86 L287.50,366.85 L288.00,366.85 L288.50,366.84 L289.00,366.84 L289.50,366.83 L290.00,366.83 L290.50,366.83 L291.00,366.82 L291.50,366.82 L292.00,366.81 L292.50,366.81 L293.00,366.80 L293.50,366.80 L294.00,366.80 L294.50,366.79 L295.00,366.79 L295.50,366.78 L296.00,366.78 L296.50,366.77 L297.00,366.77 L297.50,366.77 L298.00,366.76 L298.50,366.76 L298.59,366.76 M303.59,366.71 L304.00,366.71 L304.50,366.71 L305.00,366.70 L305.50,366.70 L306.00,366.69 L306.50,366.69 L307.00,366.68 L307.50,366.68 L308.00,366.68 L308.50,366.67 L309.00,366.67 L309.50,366.66 L310.00,366.66 L310.50,366.66 L311.00,366.65 L311.50,366.65 L312.00,366.64 L312.50,366.64 L313.00,366.64 L313.50,366.63 L314.00,366.63 L314.50,366.62 L315.00,366.62 L315.50,366.62 L316.00,366.61 L316.50,366.61 L317.00,366.60 L317.50,366.60 L318.00,366.60 L318.50,366.59 L319.00,366.59 L319.50,366.59 L319.63,366.58 M324.63,366.55 L325.00,366.54 L325.50,366.54 L326.00,366.54 L326.50,366.53 L327.00,366.53 L327.50,366.53 L328.00,366.52 L328.50,366.52 L329.00,366.52 L329.50,366.51 L330.00,366.51 L330.50,366.51 L331.00,366.50 L331.50,366.50 L332.00,366.49 L332.50,366.49 L333.00,366.49 L333.50,366.48 L334.00,366.48 L334.50,366.48 L335.00,366.47 L335.50,366.47 L336.00,366.47 L336.50,366.46 L337.00,366.46 L337.50,366.46 L338.00,366.45 L338.50,366.45 L339.00,366.45 L339.50,366.44 L340.00,366.44 L340.50,366.44 L340.67,366.43 M345.67,366.40 L346.00,366.40 L346.50,366.40 L347.00,366.39 L347.50,366.39 L348.00,366.39 L348.50,366.38 L349.00,366.38 L349.50,366.38 L350.00,366.37 L350.50,366.37 L351.00,366.37 L351.50,366.36 L352.00,366.36 L352.50,366.36 L353.00,366.35 L353.50,366.35 L354.00,366.35 L354.50,366.34 L355.00,366.34 L355.50,366.34 L356.00,366.33 L356.50,366.33 L357.00,366.33 L357.50,366.32 L358.00,366.32 L358.50,366.32 L359.00,366.31 L359.50,366.31 L360.00,366.31 L360.50,366.31 L361.00,366.30 L361.50,366.30 L361.71,366.30 M366.71,366.27 L367.00,366.26 L367.50,366.26 L368.00,366.26 L368.50,366.26 L369.00,366.25 L369.50,366.25 L370.00,366.25 L370.50,366.24 L371.00,366.24 L371.50,366.24 L372.00,366.23 L372.50,366.23 L373.00,366.23 L373.50,366.22 L374.00,366.22 L374.50,366.22 L375.00,366.21 L375.50,366.21 L376.00,366.21 L376.50,366.21 L377.00,366.20 L377.50,366.20 L378.00,366.20 L378.50,366.19 L379.00,366.19 L379.50,366.19 L380.00,366.18 L380.50,366.18 L381.00,366.18 L381.50,366.17 L382.00,366.17 L382.50,366.17 L382.75,366.17 M387.75,366.14 L388.00,366.13 L388.50,366.13 L389.00,366.13 L389.50,366.12 L390.00,366.12 L390.50,366.12 L391.00,366.11 L391.50,366.11 L392.00,366.11 L392.50,366.11 L393.00,366.10 L393.50,366.10 L394.00,366.10 L394.50,366.09 L395.00,366.09 L395.50,366.09 L396.00,366.08 L396.50,366.08 L397.00,366.08 L397.50,366.07 L398.00,366.07 L398.50,366.07 L399.00,366.06 L399.50,366.06 L400.00,366.06 L400.50,366.05 L401.00,366.05 L401.50,366.05 L402.00,366.04 L402.50,366.04 L403.00,366.04 L403.50,366.03 L403.79,366.03 M408.79,366.00 L409.00,366.00 L409.50,366.00 L410.00,365.99 L410.50,365.99 L411.00,365.99 L411.50,365.98 L412.00,365.98 L412.50,365.98 L413.00,365.97 L413.50,365.97 L414.00,365.97 L414.50,365.96 L415.00,365.96 L415.50,365.96 L416.00,365.95 L416.50,365.95 L417.00,365.95 L417.50,365.95 L418.00,365.94 L418.50,365.94 L419.00,365.94 L419.50,365.93 L420.00,365.93 L420.50,365.93 L421.00,365.92 L421.50,365.92 L422.00,365.92 L422.50,365.91 L423.00,365.91 L423.50,365.91 L424.00,365.90 L424.50,365.90 L424.83,365.90 M429.83,365.87 L430.00,365.87 L430.50,365.86 L431.00,365.86 L431.50,365.86 L432.00,365.85 L432.50,365.85 L433.00,365.85 L433.50,365.84 L434.00,365.84 L434.50,365.84 L435.00,365.84 L435.50,365.83 L436.00,365.83 L436.50,365.83 L437.00,365.82 L437.50,365.82 L438.00,365.82 L438.50,365.81 L439.00,365.81 L439.50,365.81 L440.00,365.80 L440.50,365.80 L441.00,365.80 L441.50,365.80 L442.00,365.79 L442.50,365.79 L443.00,365.79 L443.50,365.78 L444.00,365.78 L444.50,365.78 L445.00,365.77 L445.50,365.77 L445.87,365.77 M450.87,365.74 L451.00,365.74 L451.50,365.73 L452.00,365.73 L452.50,365.73 L453.00,365.72 L453.50,365.72 L454.00,365.72 L454.50,365.72 L455.00,365.71 L455.50,365.71 L456.00,365.71 L456.50,365.70 L457.00,365.70 L457.50,365.70 L458.00,365.69 L458.50,365.69 L459.00,365.69 L459.50,365.69 L460.00,365.68 L460.50,365.68 L461.00,365.68 L461.50,365.67 L462.00,365.67 L462.50,365.67 L463.00,365.66 L463.50,365.66 L464.00,365.66 L464.50,365.66 L465.00,365.65 L465.50,365.65 L466.00,365.65 L466.50,365.64 L466.91,365.64 M471.91,365.61 L472.00,365.61 L472.50,365.61 L473.00,365.60 L473.50,365.60 L474.00,365.60 L474.50,365.60 L475.00,365.59 L475.50,365.59 L476.00,365.59 L476.50,365.58 L477.00,365.58 L477.50,365.58 L478.00,365.57 L478.50,365.57 L479.00,365.57 L479.50,365.57 L480.00,365.56 L480.50,365.56 L481.00,365.56 L481.50,365.55 L482.00,365.55 L482.50,365.55 L483.00,365.54 L483.50,365.54 L484.00,365.54 L484.50,365.54 L485.00,365.53 L485.50,365.53 L486.00,365.53 L486.50,365.52 L487.00,365.52 L487.50,365.52 L487.95,365.52 M492.95,365.49 L493.00,365.49 L493.50,365.48 L494.00,365.48 L494.50,365.48 L495.00,365.47 L495.50,365.47 L496.00,365.47 L496.50,365.47 L497.00,365.46 L497.50,365.46 L498.00,365.46 L498.50,365.45 L499.00,365.45 L499.50,365.45 L500.00,365.45 L500.50,365.44 L501.00,365.44 L501.50,365.44 L502.00,365.43 L502.50,365.43 L503.00,365.43 L503.50,365.43 L504.00,365.42 L504.50,365.42 L505.00,365.42 L505.50,365.41 L506.00,365.41 L506.50,365.41 L507.00,365.41 L507.50,365.40 L508.00,365.40 L508.50,365.40 L508.99,365.39" stroke="#2f2fc0" stroke-width="1.6"/>
<path d="M93.19,411.56 L93.50,411.50 L94.00,411.41 L94.50,411.31 L95.00,411.22 L95.50,411.12 L96.00,411.01 L96.50,410.91 L97.00,410.80 L97.50,410.70 L98.00,410.58 L98.50,410.47 L99.00,410.36 L99.50,410.24 L100.00,410.11 L100.50,409.98 L101.00,409.84 L101.50,409.70 L102.00,409.55 L102.50,409.40 L103.00,409.25 L103.50,409.09 L104.00,408.94 L104.50,408.79 L105.00,408.63 L105.50,408.49 L106.00,408.34 L106.50,408.20 L107.00,408.06 L107.50,407.94 L108.00,407.81 L108.50,407.70 L109.00,407.59 L109.23,407.54 M114.23,406.61 L114.50,406.60 L115.00,406.61 L115.50,406.64 L116.00,406.68 L116.50,406.74 L117.00,406.81 L117.50,406.89 L118.00,406.98 L118.50,407.07 L119.00,407.17 L119.50,407.27 L120.00,407.37 L120.50,407.48 L121.00,407.60 L121.50,407.73 L122.00,407.87 L122.50,408.02 L123.00,408.18 L123.50,408.36 L124.00,408.53 L124.50,408.72 L125.00,408.91 L125.50,409.10 L126.00,409.30 L126.50,409.50 L127.00,409.71 L127.50,409.92 L128.00,410.15 L128.50,410.39 L129.00,410.65 L129.50,410.92 L130.00,411.20 L130.27,411.36 M135.27,414.19 L135.50,414.30 L136.00,414.53 L136.50,414.75 L137.00,414.96 L137.50,415.17 L138.00,415.38 L138.50,415.58 L139.00,415.78 L139.50,415.98 L140.00,416.17 L140.50,416.36 L141.00,416.55 L141.50,416.73 L142.00,416.92 L142.50,417.10 L143.00,417.28 L143.50,417.45 L144.00,417.63 L144.50,417.80 L145.00,417.97 L145.50,418.13 L146.00,418.30 L146.50,418.46 L147.00,418.62 L147.50,418.78 L148.00,418.94 L148.50,419.10 L149.00,419.25 L149.50,419.40 L150.00,419.56 L150.50,419.71 L151.00,419.85 L151.31,419.94 M156.31,421.41 L156.50,421.46 L157.00,421.61 L157.50,421.75 L158.00,421.89 L158.50,422.03 L159.00,422.17 L159.50,422.31 L160.00,422.44 L160.50,422.57 L161.00,422.71 L161.50,422.84 L162.00,422.96 L162.50,423.09 L163.00,423.21 L163.50,423.33 L164.00,423.45 L164.50,423.56 L165.00,423.68 L165.50,423.79 L166.00,423.89 L166.50,423.99 L167.00,424.09 L167.50,424.19 L168.00,424.28 L168.50,424.37 L169.00,424.46 L169.50,424.54 L170.00,424.61 L170.50,424.68 L171.00,424.75 L171.50,424.82 L172.00,424.88 L172.35,424.92 M177.35,425.45 L177.50,425.47 L178.00,425.53 L178.50,425.59 L179.00,425.66 L179.50,425.72 L180.00,425.79 L180.50,425.86 L181.00,425.93 L181.50,426.00 L182.00,426.07 L182.50,426.14 L183.00,426.21 L183.50,426.29 L184.00,426.36 L184.50,426.43 L185.00,426.51 L185.50,426.59 L186.00,426.66 L186.50,426.74 L187.00,426.81 L187.50,426.89 L188.00,426.96 L188.50,427.04 L189.00,427.11 L189.50,427.19 L190.00,427.26 L190.50,427.34 L191.00,427.41 L191.50,427.48 L192.00,427.55 L192.50,427.62 L193.00,427.69 L193.39,427.75 M198.39,428.36 L198.50,428.37 L199.00,428.42 L199.50,428.47 L200.00,428.51 L200.50,428.56 L201.00,428.60 L201.50,428.64 L202.00,428.68 L202.50,428.72 L203.00,428.76 L203.50,428.80 L204.00,428.84 L204.50,428.88 L205.00,428.92 L205.50,428.95 L206.00,428.99 L206.50,429.03 L207.00,429.06 L207.50,429.10 L208.00,429.13 L208.50,429.16 L209.00,429.19 L209.50,429.23 L210.00,429.26 L210.50,429.29 L211.00,429.32 L211.50,429.35 L212.00,429.38 L212.50,429.41 L213.00,429.44 L213.50,429.47 L214.00,429.50 L214.43,429.52 M219.43,429.80 L219.50,429.80 L220.00,429.83 L220.50,429.85 L221.00,429.88 L221.50,429.91 L222.00,429.93 L222.50,429.96 L223.00,429.98 L223.50,430.01 L224.00,430.04 L224.50,430.06 L225.00,430.09 L225.50,430.11 L226.00,430.14 L226.50,430.16 L227.00,430.19 L227.50,430.21 L228.00,430.24 L228.50,430.26 L229.00,430.29 L229.50,430.31 L230.00,430.34 L230.50,430.36 L231.00,430.39 L231.50,430.41 L232.00,430.44 L232.50,430.46 L233.00,430.48 L233.50,430.51 L234.00,430.53 L234.50,430.56 L235.00,430.58 L235.47,430.60 M240.47,430.83 L240.50,430.83 L241.00,430.85 L241.50,430.88 L242.00,430.90 L242.50,430.92 L243.00,430.94 L243.50,430.96 L244.00,430.99 L244.50,431.01 L245.00,431.03 L245.50,431.05 L246.00,431.07 L246.50,431.09 L247.00,431.11 L247.50,431.13 L248.00,431.15 L248.50,431.18 L249.00,431.20 L249.50,431.22 L250.00,431.24 L250.50,431.26 L251.00,431.28 L251.50,431.30 L252.00,431.32 L252.50,431.34 L253.00,431.36 L253.50,431.38 L254.00,431.40 L254.50,431.42 L255.00,431.43 L255.50,431.45 L256.00,431.47 L256.50,431.49 L256.51,431.49 M261.51,431.68 L262.00,431.69 L262.50,431.71 L263.00,431.73 L263.50,431.75 L264.00,431.76 L264.50,431.78 L265.00,431.80 L265.50,431.81 L266.00,431.83 L266.50,431.85 L267.00,431.86 L267.50,431.88 L268.00,431.90 L268.50,431.91 L269.00,431.93 L269.50,431.95 L270.00,431.96 L270.50,431.98 L271.00,431.99 L271.50,432.01 L272.00,432.02 L272.50,432.04 L273.00,432.06 L273.50,432.07 L274.00,432.09 L274.50,432.10 L275.00,432.12 L275.50,432.13 L276.00,432.15 L276.50,432.16 L277.00,432.18 L277.50,432.19 L277.55,432.19 M282.55,432.34 L283.00,432.36 L283.50,432.37 L284.00,432.38 L284.50,432.40 L285.00,432.41 L285.50,432.43 L286.00,432.44 L286.50,432.46 L287.00,432.47 L287.50,432.49 L288.00,432.50 L288.50,432.51 L289.00,432.53 L289.50,432.54 L290.00,432.56 L290.50,432.57 L291.00,432.58 L291.50,432.60 L292.00,432.61 L292.50,432.62 L293.00,432.64 L293.50,432.65 L294.00,432.66 L294.50,432.68 L295.00,432.69 L295.50,432.70 L296.00,432.72 L296.50,432.73 L297.00,432.74 L297.50,432.75 L298.00,432.77 L298.50,432.78 L298.59,432.78 M303.59,432.90 L304.00,432.91 L304.50,432.92 L305.00,432.93 L305.50,432.94 L306.00,432.95 L306.50,432.96 L307.00,432.97 L307.50,432.98 L308.00,432.99 L308.50,433.00 L309.00,433.01 L309.50,433.02 L310.00,433.03 L310.50,433.04 L311.00,433.05 L311.50,433.06 L312.00,433.06 L312.50,433.07 L313.00,433.08 L313.50,433.09 L314.00,433.10 L314.50,433.10 L315.00,433.11 L315.50,433.12 L316.00,433.13 L316.50,433.13 L317.00,433.14 L317.50,433.15 L318.00,433.15 L318.50,433.16 L319.00,433.17 L319.50,433.17 L319.63,433.17 M324.63,433.23 L325.00,433.23 L325.50,433.24 L326.00,433.24 L326.50,433.25 L327.00,433.25 L327.50,433.26 L328.00,433.26 L328.50,433.27 L329.00,433.27 L329.50,433.28 L330.00,433.28 L330.50,433.29 L331.00,433.29 L331.50,433.30 L332.00,433.30 L332.50,433.30 L333.00,433.31 L333.50,433.31 L334.00,433.32 L334.50,433.32 L335.00,433.33 L335.50,433.33 L336.00,433.34 L336.50,433.34 L337.00,433.34 L337.50,433.35 L338.00,433.35 L338.50,433.36 L339.00,433.36 L339.50,433.36 L340.00,433.37 L340.50,433.37 L340.67,433.37 M345.67,433.41 L346.00,433.41 L346.50,433.42 L347.00,433.42 L347.50,433.43 L348.00,433.43 L348.50,433.43 L349.00,433.44 L349.50,433.44 L350.00,433.44 L350.50,433.45 L351.00,433.45 L351.50,433.45 L352.00,433.46 L352.50,433.46 L353.00,433.46 L353.50,433.47 L354.00,433.47 L354.50,433.47 L355.00,433.48 L355.50,433.48 L356.00,433.48 L356.50,433.49 L357.00,433.49 L357.50,433.49 L358.00,433.49 L358.50,433.50 L359.00,433.50 L359.50,433.50 L360.00,433.51 L360.50,433.51 L361.00,433.51 L361.50,433.52 L361.71,433.52 M366.71,433.55 L367.00,433.55 L367.50,433.55 L368.00,433.55 L368.50,433.56 L369.00,433.56 L369.50,433.56 L370.00,433.56 L370.50,433.57 L371.00,433.57 L371.50,433.57 L372.00,433.58 L372.50,433.58 L373.00,433.58 L373.50,433.58 L374.00,433.59 L374.50,433.59 L375.00,433.59 L375.50,433.59 L376.00,433.60 L376.50,433.60 L377.00,433.60 L377.50,433.61 L378.00,433.61 L378.50,433.61 L379.00,433.61 L379.50,433.62 L380.00,433.62 L380.50,433.62 L381.00,433.62 L381.50,433.63 L382.00,433.63 L382.50,433.63 L382.75,433.63 M387.75,433.66 L388.00,433.66 L388.50,433.66 L389.00,433.67 L389.50,433.67 L390.00,433.67 L390.50,433.67 L391.00,433.68 L391.50,433.68 L392.00,433.68 L392.50,433.69 L393.00,433.69 L393.50,433.69 L394.00,433.69 L394.50,433.70 L395.00,433.70 L395.50,433.70 L396.00,433.70 L396.50,433.71 L397.00,433.71 L397.50,433.71 L398.00,433.72 L398.50,433.72 L399.00,433.72 L399.50,433.72 L400.00,433.73 L400.50,433.73 L401.00,433.73 L401.50,433.74 L402.00,433.74 L402.50,433.74 L403.00,433.74 L403.50,433.75 L403.79,433.75 M408.79,433.78 L409.00,433.78 L409.50,433.78 L410.00,433.78 L410.50,433.79 L411.00,433.79 L411.50,433.79 L412.00,433.80 L412.50,433.80 L413.00,433.80 L413.50,433.80 L414.00,433.81 L414.50,433.81 L415.00,433.81 L415.50,433.81 L416.00,433.82 L416.50,433.82 L417.00,433.82 L417.50,433.83 L418.00,433.83 L418.50,433.83 L419.00,433.83 L419.50,433.84 L420.00,433.84 L420.50,433.84 L421.00,433.84 L421.50,433.85 L422.00,433.85 L422.50,433.85 L423.00,433.86 L423.50,433.86 L424.00,433.86 L424.50,433.86 L424.83,433.87 M429.83,433.89 L430.00,433.89 L430.50,433.90 L431.00,433.90 L431.50,433.90 L432.00,433.90 L432.50,433.91 L433.00,433.91 L433.50,433.91 L434.00,433.92 L434.50,433.92 L435.00,433.92 L435.50,433.92 L436.00,433.93 L436.50,433.93 L437.00,433.93 L437.50,433.93 L438.00,433.94 L438.50,433.94 L439.00,433.94 L439.50,433.94 L440.00,433.95 L440.50,433.95 L441.00,433.95 L441.50,433.95 L442.00,433.96 L442.50,433.96 L443.00,433.96 L443.50,433.96 L444.00,433.97 L444.50,433.97 L445.00,433.97 L445.50,433.98 L445.87,433.98 M450.87,434.00 L451.00,434.00 L451.50,434.01 L452.00,434.01 L452.50,434.01 L453.00,434.01 L453.50,434.02 L454.00,434.02 L454.50,434.02 L455.00,434.02 L455.50,434.03 L456.00,434.03 L456.50,434.03 L457.00,434.03 L457.50,434.04 L458.00,434.04 L458.50,434.04 L459.00,434.04 L459.50,434.04 L460.00,434.05 L460.50,434.05 L461.00,434.05 L461.50,434.05 L462.00,434.06 L462.50,434.06 L463.00,434.06 L463.50,434.06 L464.00,434.07 L464.50,434.07 L465.00,434.07 L465.50,434.07 L466.00,434.08 L466.50,434.08 L466.91,434.08 M471.91,434.10 L472.00,434.10 L472.50,434.11 L473.00,434.11 L473.50,434.11 L474.00,434.11 L474.50,434.12 L475.00,434.12 L475.50,434.12 L476.00,434.12 L476.50,434.12 L477.00,434.13 L477.50,434.13 L478.00,434.13 L478.50,434.13 L479.00,434.14 L479.50,434.14 L480.00,434.14 L480.50,434.14 L481.00,434.15 L481.50,434.15 L482.00,434.15 L482.50,434.15 L483.00,434.15 L483.50,434.16 L484.00,434.16 L484.50,434.16 L485.00,434.16 L485.50,434.16 L486.00,434.17 L486.50,434.17 L487.00,434.17 L487.50,434.17 L487.95,434.18 M492.95,434.20 L493.00,434.20 L493.50,434.20 L494.00,434.20 L494.50,434.20 L495.00,434.21 L495.50,434.21 L496.00,434.21 L496.50,434.21 L497.00,434.21 L497.50,434.22 L498.00,434.22 L498.50,434.22 L499.00,434.22 L499.50,434.22 L500.00,434.23 L500.50,434.23 L501.00,434.23 L501.50,434.23 L502.00,434.23 L502.50,434.24 L503.00,434.24 L503.50,434.24 L504.00,434.24 L504.50,434.24 L505.00,434.25 L505.50,434.25 L506.00,434.25 L506.50,434.25 L507.00,434.25 L507.50,434.25 L508.00,434.26 L508.50,434.26 L508.99,434.26" stroke="#e8141c" stroke-width="1.6"/>
<polyline points="92.00,411.77 92.40,411.77 92.80,411.77 93.20,411.77 93.60,411.77 94.00,411.77 94.40,411.77 94.80,411.77 95.20,411.77 95.60,411.77 96.00,411.77 96.40,411.77 96.80,411.77 97.20,411.77 97.60,411.77 98.00,411.77 98.40,411.77 98.80,411.77 99.20,411.77 99.60,411.77 100.00,411.77 100.40,411.77 100.80,411.77 101.20,411.77 101.60,411.77 102.00,411.77 102.40,411.77 102.80,411.77 103.20,411.77 103.60,411.77 104.00,411.77 104.40,411.77 104.80,411.77 105.20,411.77 105.60,411.77 106.00,411.77 106.40,411.77 106.80,411.77 107.20,411.77 107.60,411.77 108.00,411.77 108.40,411.77 108.80,411.77 109.20,411.77 109.60,411.77 110.00,411.77 110.40,411.77 110.80,411.77 111.20,411.77 111.60,411.77 112.00,411.77 112.40,411.77 112.80,411.77 113.20,411.77 113.60,411.77 114.00,411.77 114.40,411.77 114.80,411.77 115.20,411.77 115.60,411.77 116.00,411.77 116.40,411.77 116.80,411.77 117.20,411.77 117.60,411.77 118.00,411.77 118.40,411.77 118.80,411.77 119.20,411.77 119.60,411.77 120.00,411.77 120.40,411.77 120.80,411.77 121.20,411.77 121.60,411.77 122.00,411.77 122.40,411.77 122.80,411.77 123.20,411.77 123.60,411.77 124.00,411.77 124.40,411.77 124.80,411.77 125.20,411.77 125.60,411.77 126.00,411.77 126.40,411.77 126.80,411.77 127.20,411.77 127.60,411.77 128.00,420.69 128.40,441.43 128.80,452.94 129.20,460.51 129.60,465.30 130.00,468.02 130.40,470.01 130.80,470.79 131.20,470.35 131.60,469.28 132.00,467.91 132.40,466.47 132.80,464.58 133.20,462.30 133.60,459.79 134.00,457.21 134.40,454.74 134.80,452.53 135.20,450.69 135.60,448.99 136.00,447.38 136.40,445.85 136.80,444.38 137.20,442.96 137.60,441.58 138.00,440.23 138.40,438.89 138.80,437.55 139.20,436.20 139.60,434.82 140.00,433.43 140.40,432.04 140.80,430.66 141.20,429.32 141.60,428.02 142.00,426.79 142.40,425.65 142.80,424.60 143.20,423.66 143.60,422.80 144.00,422.00 144.40,421.25 144.80,420.53 145.20,419.84 145.60,419.17 146.00,418.51 146.40,417.84 146.80,417.16 147.20,416.44 147.60,415.66 148.00,414.86 148.40,414.06 148.80,413.28 149.20,412.56 149.60,411.92 150.00,411.40 150.40,411.01 150.80,410.75 151.20,410.50 151.60,410.26 152.00,410.05 152.40,409.85 152.80,409.68 153.20,409.53 153.60,409.42 154.00,409.34 154.40,409.30 154.80,409.31 155.20,409.41 155.60,409.61 156.00,409.88 156.40,410.22 156.80,410.61 157.20,411.04 157.60,411.50 158.00,411.97 158.40,412.45 158.80,412.91 159.20,413.36 159.60,413.85 160.00,414.38 160.40,414.95 160.80,415.54 161.20,416.17 161.60,416.82 162.00,417.49 162.40,418.18 162.80,418.88 163.20,419.59 163.60,420.29 164.00,421.00 164.40,421.70 164.80,422.39 165.20,423.07 165.60,423.73 166.00,424.36 166.40,424.97 166.80,425.60 167.20,426.24 167.60,426.89 168.00,427.55 168.40,428.22 168.80,428.88 169.20,429.54 169.60,430.20 170.00,430.84 170.40,431.47 170.80,432.09 171.20,432.68 171.60,433.25 172.00,433.78 172.40,434.29 172.80,434.76 173.20,435.19 173.60,435.58 174.00,435.92 174.40,436.24 174.80,436.56 175.20,436.88 175.60,437.19 176.00,437.50 176.40,437.80 176.80,438.09 177.20,438.37 177.60,438.63 178.00,438.88 178.40,439.11 178.80,439.32 179.20,439.50 179.60,439.67 180.00,439.80 180.40,439.91 180.80,439.99 181.20,440.03 181.60,440.04 182.00,440.00 182.40,439.92 182.80,439.80 183.20,439.64 183.60,439.44 184.00,439.21 184.40,438.96 184.80,438.68 185.20,438.37 185.60,438.05 186.00,437.72 186.40,437.37 186.80,437.02 187.20,436.67 187.60,436.31 188.00,435.95 188.40,435.60 188.80,435.26 189.20,434.93 189.60,434.57 190.00,434.19 190.40,433.77 190.80,433.34 191.20,432.88 191.60,432.42 192.00,431.94 192.40,431.45 192.80,430.96 193.20,430.47 193.60,429.99 194.00,429.51 194.40,429.04 194.80,428.59 195.20,428.15 195.60,427.74 196.00,427.35 196.40,426.99 196.80,426.67 197.20,426.37 197.60,426.07 198.00,425.79 198.40,425.51 198.80,425.24 199.20,424.98 199.60,424.73 200.00,424.50 200.40,424.28 200.80,424.07 201.20,423.89 201.60,423.72 202.00,423.57 202.40,423.43 202.80,423.29 203.20,423.15 203.60,423.02 204.00,422.89 204.40,422.77 204.80,422.65 205.20,422.55 205.60,422.45 206.00,422.37 206.40,422.30 206.80,422.25 207.20,422.21 207.60,422.20 208.00,422.22 208.40,422.30 208.80,422.45 209.20,422.66 209.60,422.92 210.00,423.23 210.40,423.58 210.80,423.97 211.20,424.39 211.60,424.83 213.60,422.51 215.20,428.03 216.80,429.13 218.40,433.81 220.00,432.14 221.60,435.53 223.20,436.22 224.80,438.68 226.40,437.46 228.00,441.01 229.60,442.90 231.20,446.66 232.80,445.74 234.40,441.31 236.00,437.81 237.60,439.67 239.20,440.71 240.80,439.68 242.40,435.08 244.00,435.26 245.60,433.62 247.20,433.11 248.80,432.13 250.40,429.43 252.00,431.10 253.60,427.91 255.20,431.41 256.80,433.58 258.40,430.24 260.00,434.31 261.60,435.52 263.20,439.18 264.80,437.61 266.40,439.41 268.00,435.00 269.60,441.87 271.20,441.84 272.80,443.08 274.40,443.75 276.00,442.23 277.60,443.57 279.20,439.07 280.80,441.68 282.40,440.88 284.00,438.74 285.60,438.34 287.20,435.03 288.80,425.98 290.40,434.15 292.00,434.74 293.60,434.32 295.20,435.50 296.80,436.75 298.40,434.90 300.00,432.91 301.60,434.30 303.20,435.57 304.80,435.07 306.40,434.22 308.00,438.56 309.60,435.33 311.20,442.43 312.80,437.30 314.40,437.06 316.00,440.91 317.60,439.66 319.20,438.44 320.80,438.94 322.40,439.08 324.00,437.20 325.60,439.23 326.88,452.02 327.85,424.12 329.16,436.08 330.64,442.35 331.77,434.33 333.04,444.50 334.42,436.36 335.50,433.97 336.46,437.37 337.90,437.88 339.37,439.37 340.63,439.40 341.80,436.03 343.31,454.94 344.29,448.91 345.64,439.21 347.03,443.66 348.42,442.73 349.47,439.49 351.00,433.84 352.16,439.93 353.38,428.27 354.61,455.37 356.07,429.81 357.18,426.76 358.40,436.98 359.93,437.44 361.02,428.76 362.14,428.90 363.48,435.13 364.98,433.04 366.21,438.35 367.38,434.53 368.46,438.70 369.98,435.59 371.16,437.69 372.62,437.92 373.80,426.59 375.24,441.73 376.24,452.51 377.28,433.13 378.81,432.55 379.92,435.87 381.24,436.33 382.77,454.51 383.73,437.68 384.70,439.07 386.20,443.11 387.15,442.72 388.48,438.95 389.57,437.53 390.69,423.00 392.17,441.60 393.20,442.41 394.30,447.61 395.55,453.44 396.96,426.94 398.35,444.36 399.58,435.22 400.95,439.72 402.33,464.67 403.57,437.90 404.53,441.80 405.53,445.78 406.48,443.19 407.81,436.63 409.26,438.76 410.63,444.35 411.81,451.00 413.24,441.21 414.46,430.82 415.89,440.67 416.99,436.28 418.28,448.84 419.43,429.00 420.66,436.18 421.99,443.90 423.08,445.50 424.26,453.28 425.38,435.70 426.57,442.92 427.55,422.51 429.00,446.44 430.00,434.52 431.15,438.47 432.29,444.42 433.55,435.49 435.03,431.69 436.14,433.19 437.11,448.98 438.54,427.80 440.02,435.45 441.40,439.71 442.44,432.54 443.79,464.83 445.27,439.18 446.27,426.91 447.68,440.28 448.77,438.21 450.21,422.96 451.55,446.91 453.08,438.90 454.15,437.90 455.64,441.00 456.59,446.20 457.78,440.35 459.11,433.80 460.07,426.54 461.21,432.96 462.27,441.26 463.56,435.13 464.68,436.72 465.75,437.13 466.98,443.96 468.08,437.76 469.09,433.48 470.59,454.96 471.95,422.94 473.01,439.32 474.44,428.60 475.53,440.46 476.78,445.84 477.83,431.95 478.93,445.32 480.22,430.85 481.33,432.01 482.40,451.82 483.66,441.39 485.20,439.14 486.20,444.29 487.65,440.72 488.73,427.61 490.22,427.35 491.54,431.40 492.90,435.52 493.90,429.70 494.92,430.16 496.34,440.26 497.83,449.87 499.29,439.61 500.61,458.83 501.63,436.34 502.64,440.44 503.68,432.74 504.74,432.55 506.03,432.14 507.15,454.72 508.24,428.53 509.65,442.67 511.02,425.60 512.23,448.35 513.51,449.72" stroke="#e8141c" stroke-width="1.4"/>
<polyline points="127.60,411.77 127.70,411.77 127.80,411.77 128.22,412.89 128.65,415.61 129.07,418.33 129.50,419.45 129.90,419.33 130.31,418.96 130.71,418.35 131.12,417.51 131.52,416.42 131.93,415.11 132.33,413.57 132.74,411.82 133.14,409.86 133.54,407.70 133.95,405.35 134.35,402.83 134.76,400.14 135.16,397.31 135.57,394.33 135.97,391.24 136.38,388.03 136.78,384.74 137.18,381.37 137.59,377.94 137.99,374.47 138.40,370.97 138.80,367.46 139.21,363.96 139.61,360.49 140.02,357.06 140.42,353.69 140.82,350.40 141.23,347.19 141.63,344.10 142.04,341.12 142.44,338.29 142.85,335.60 143.25,333.08 143.66,330.73 144.06,328.57 144.46,326.61 144.87,324.86 145.27,323.32 145.68,322.01 146.08,320.92 146.49,320.07 146.89,319.47 147.30,319.10 147.70,318.98 148.10,319.10 148.51,319.46 148.91,320.07 149.31,320.92 149.72,322.00 150.12,323.32 150.52,324.87 150.93,326.65 151.33,328.66 151.73,330.88 152.14,333.31 152.54,335.95 152.94,338.79 153.35,341.82 153.75,345.04 154.15,348.43 154.55,352.00 154.96,355.71 155.36,359.58 155.76,363.59 156.17,367.72 156.57,371.98 156.97,376.34 157.38,380.79 157.78,385.33 158.18,389.95 158.59,394.62 158.99,399.35 159.39,404.11 159.80,408.89 160.20,413.69 160.60,418.48 161.01,423.27 161.41,428.03 161.81,432.75 162.22,437.43 162.62,442.04 163.02,446.58 163.43,451.04 163.83,455.40 164.23,459.65 164.64,463.79 165.04,467.79 165.44,471.66 165.85,475.38 166.25,478.94 166.65,482.33 167.05,485.55 167.46,488.58 167.86,491.42 168.26,494.06 168.67,496.50 169.07,498.72 169.47,500.72 169.88,502.50 170.28,504.05 170.68,505.37 171.09,506.46 171.49,507.30 171.89,507.91 172.30,508.28 172.70,508.40 173.10,508.17 173.50,507.48 173.90,506.34 174.30,504.75 174.70,502.71 175.10,500.23 175.50,497.33 175.90,494.00 176.30,490.26 176.70,486.13 177.10,481.62 177.50,476.73 177.90,471.50 178.30,465.93 178.70,460.05 179.10,453.88 179.50,447.43 179.90,440.73 180.30,433.80 180.70,426.66 181.10,419.35 181.50,411.87 181.90,404.27 182.30,396.56 182.70,388.77 183.10,380.93 183.50,373.06 183.90,365.19 184.30,357.35 184.70,349.56 185.10,341.85 185.50,334.24 185.90,326.77 186.30,319.45 186.70,312.32 187.10,305.39 187.50,298.69 187.90,292.24 188.30,286.06 188.70,280.18 189.10,274.62 189.50,269.38 189.90,264.50 190.30,259.98 190.70,255.85 191.10,252.11 191.50,248.79 191.90,245.88 192.30,243.40 192.70,241.37 193.10,239.77 193.50,238.63 193.90,237.95 194.30,237.72 194.70,237.90 195.11,238.46 195.51,239.39 195.91,240.69 196.32,242.35 196.72,244.37 197.12,246.74 197.53,249.47 197.93,252.53 198.33,255.93 198.74,259.66 199.14,263.70 199.54,268.04 199.95,272.69 200.35,277.61 200.75,282.80 201.15,288.25 201.56,293.94 201.96,299.86 202.36,305.99 202.77,312.32 203.17,318.83 203.57,325.51 203.98,332.32 204.38,339.27 204.78,346.33 205.19,353.49 205.59,360.72 205.99,368.00 206.40,375.32 206.80,382.67 207.20,390.01 207.61,397.33 208.01,404.61 208.41,411.84 208.82,419.00 209.22,426.06 209.62,433.01 210.03,439.83 210.43,446.50 210.83,453.01 211.24,459.34 211.64,465.47 212.04,471.39 212.45,477.08 212.85,482.53 213.25,487.72 213.65,492.65 214.06,497.29 214.46,501.63 214.86,505.67 215.27,509.40 215.67,512.80 216.07,515.87 216.48,518.59 216.88,520.97 217.28,522.99 217.69,524.65 218.09,525.94 218.49,526.87 218.90,527.43 219.30,527.61 219.71,527.34 220.12,526.52 220.52,525.15 220.93,523.24 221.34,520.80 221.75,517.84 222.15,514.36 222.56,510.38 222.97,505.91 223.38,500.97 223.78,495.57 224.19,489.74 224.60,483.49 225.01,476.84 225.41,469.83 225.82,462.47 226.23,454.80 226.64,446.82 227.04,438.59 227.45,430.12 227.86,421.44 228.27,412.58 228.67,403.58 229.08,394.47 229.49,385.28 229.90,376.04 230.30,366.78 230.71,357.54 231.12,348.35 231.53,339.24 231.93,330.24 232.34,321.38 232.75,312.71 233.16,304.23 233.56,296.00 233.97,288.03 234.38,280.35 234.79,272.99 235.19,265.98 235.60,259.33 236.01,253.09 236.42,247.25 236.82,241.85 237.23,236.91 237.64,232.44 238.05,228.46 238.45,224.98 238.86,222.02 239.27,219.58 239.68,217.67 240.08,216.30 240.49,215.48 240.90,215.21 241.31,215.43 241.71,216.10 242.12,217.21 242.52,218.76 242.93,220.74 243.33,223.15 243.74,225.98 244.14,229.23 244.55,232.88 244.95,236.92 245.36,241.33 245.76,246.12 246.17,251.25 246.57,256.73 246.98,262.52 247.38,268.61 247.79,274.98 248.19,281.62 248.60,288.50 249.01,295.61 249.41,302.92 249.82,310.40 250.22,318.04 250.63,325.82 251.03,333.70 251.44,341.67 251.84,349.70 252.25,357.76 252.65,365.84 253.06,373.91 253.46,381.94 253.87,389.91 254.27,397.79 254.68,405.56 255.08,413.20 255.49,420.69 255.89,427.99 256.30,435.10 256.71,441.98 257.11,448.62 257.52,455.00 257.92,461.09 258.33,466.88 258.73,472.35 259.14,477.49 259.54,482.27 259.95,486.69 260.35,490.73 260.76,494.38 261.16,497.62 261.57,500.45 261.97,502.87 262.38,504.85 262.78,506.40 263.19,507.51 263.59,508.17 264.00,508.40 264.40,508.20 264.80,507.61 265.21,506.64 265.61,505.28 266.01,503.53 266.41,501.41 266.81,498.92 267.21,496.06 267.62,492.84 268.02,489.28 268.42,485.38 268.82,481.15 269.22,476.61 269.62,471.77 270.03,466.64 270.43,461.24 270.83,455.58 271.23,449.68 271.63,443.56 272.03,437.22 272.44,430.70 272.84,424.00 273.24,417.16 273.64,410.18 274.04,403.08 274.44,395.90 274.85,388.64 275.25,381.33 275.65,373.99 276.05,366.64 276.45,359.30 276.85,351.99 277.26,344.73 277.66,337.54 278.06,330.45 278.46,323.47 278.86,316.62 279.26,309.93 279.67,303.40 280.07,297.07 280.47,290.94 280.87,285.04 281.27,279.38 281.67,273.98 282.08,268.85 282.48,264.01 282.88,259.47 283.28,255.24 283.68,251.35 284.08,247.78 284.49,244.57 284.89,241.71 285.29,239.22 285.69,237.09 286.09,235.35 286.49,233.99 286.90,233.01 287.30,232.42 287.70,232.23 288.11,232.43 288.51,233.03 288.92,234.03 289.32,235.42 289.73,237.21 290.13,239.38 290.54,241.93 290.94,244.85 291.35,248.12 291.75,251.75 292.16,255.72 292.57,260.01 292.97,264.61 293.38,269.50 293.78,274.68 294.19,280.11 294.59,285.80 295.00,291.70 295.40,297.82 295.81,304.12 296.21,310.59 296.62,317.21 297.03,323.95 297.43,330.79 297.84,337.71 298.24,344.69 298.65,351.70 299.05,358.73 299.46,365.74 299.86,372.72 300.27,379.21 301.57,401.49 302.87,418.76 304.17,439.21 305.47,454.88 306.77,466.28 308.07,474.88 309.37,477.88 310.67,479.48 311.97,475.08 313.27,469.31 314.57,457.24 315.87,446.43 317.17,431.09 318.47,405.94 319.77,393.05 321.07,376.21 322.37,356.71 323.67,333.92 324.97,319.69 326.27,302.56 327.57,286.23 327.70,285.16 328.60,297.04 329.50,270.95 330.17,265.99 330.30,265.21 331.00,255.54 331.47,258.23 331.70,257.37 332.50,254.40 332.77,253.39 333.20,262.25 333.90,255.03 334.07,255.27 335.37,258.26 335.70,260.35 336.50,258.55 337.30,270.85 337.97,275.48 339.27,287.34 340.57,299.14 341.87,308.67 343.17,336.54 344.47,358.61 345.77,373.78 347.07,392.69 348.37,408.41 349.67,424.39 350.97,431.25 352.27,439.59 353.57,448.37 354.87,448.59 356.17,424.03 357.47,445.27 358.77,439.20 360.07,431.50 361.37,420.61 362.67,414.13 363.97,401.97 365.27,387.97 366.57,375.33 367.87,361.15 369.17,347.60 370.47,330.27 371.77,321.51 373.07,309.94 374.37,301.12 375.40,296.63 375.67,295.46 376.30,315.75 376.97,292.01 377.20,290.58 378.27,283.98 379.57,281.02 380.87,287.33 382.17,288.98 383.47,292.07 384.77,300.81 386.07,310.20 387.37,325.50 388.67,337.24 389.97,341.77 391.27,372.95 392.57,372.62 393.87,382.15 394.70,388.34 395.50,385.84 396.30,399.51 396.47,400.66 397.77,411.17 399.07,415.33 400.37,419.82 401.67,427.33 402.97,435.59 404.27,422.95 405.57,393.71 406.87,406.51 408.17,396.47 409.20,390.54 409.47,388.99 410.00,394.04 410.77,374.47 410.80,374.00 412.07,354.74 413.37,335.66 414.67,331.13 415.97,328.58 417.27,318.79 418.57,311.51 419.87,305.24 421.17,310.57 422.47,306.54 423.20,322.14 424.00,340.95 424.80,315.00 425.07,309.97 426.37,315.94 426.60,316.62 427.50,349.45 428.40,322.14 428.97,324.00 430.27,320.05 431.57,337.30 432.87,338.71 434.17,357.54 435.47,367.89 436.77,378.85 438.07,381.26 439.37,390.64 440.00,375.00 441.67,390.00 444.17,393.33 445.83,415.00 447.50,406.67 449.17,410.00 450.00,420.00 451.67,388.33 453.33,396.67 454.17,403.33 455.83,353.33 457.50,390.00 458.33,365.00 460.00,356.67 461.67,365.00 463.33,310.00 465.00,333.33 466.67,330.00 467.50,320.00 469.17,345.00 470.00,330.00 470.83,351.67 472.00,304.17 473.33,338.33 474.17,323.33 475.83,346.67 477.50,340.00 479.17,358.33 480.83,343.33 482.50,370.00 484.17,365.00 485.83,386.67 487.50,405.00 488.33,380.00 490.00,403.33 490.83,356.67 492.50,406.67 494.17,411.67 495.83,376.67 497.50,393.33 499.17,403.33 500.83,376.67 502.50,368.33 503.33,340.00 505.00,376.67 506.67,331.67 508.33,336.67 510.00,356.67 511.67,361.67 512.67,331.67 513.17,350.00 513.20,366.67" stroke="#2f2fc0" stroke-width="1.4"/>
</g>
<g fill="none" stroke-linejoin="round" clip-path="url(#cc)">
<path d="M93.19,736.33 L93.50,736.31 L94.00,736.28 L94.50,736.25 L95.00,736.22 L95.50,736.19 L96.00,736.15 L96.50,736.11 L97.00,736.07 L97.50,736.03 L98.00,735.99 L98.50,735.95 L99.00,735.91 L99.50,735.86 L100.00,735.82 L100.50,735.77 L101.00,735.72 L101.50,735.66 L102.00,735.61 L102.50,735.55 L103.00,735.49 L103.50,735.42 L104.00,735.36 L104.50,735.29 L105.00,735.22 L105.50,735.15 L106.00,735.08 L106.50,735.02 L107.00,734.95 L107.50,734.88 L108.00,734.81 L108.50,734.74 L109.00,734.67 L109.23,734.64 M114.23,733.91 L114.50,733.87 L115.00,733.80 L115.50,733.73 L116.00,733.66 L116.50,733.59 L117.00,733.53 L117.50,733.46 L118.00,733.39 L118.50,733.32 L119.00,733.25 L119.50,733.18 L120.00,733.12 L120.50,733.05 L121.00,732.99 L121.50,732.92 L122.00,732.86 L122.50,732.81 L123.00,732.75 L123.50,732.70 L124.00,732.66 L124.50,732.61 L125.00,732.57 L125.50,732.52 L126.00,732.48 L126.50,732.43 L127.00,732.39 L127.50,732.36 L128.00,732.32 L128.50,732.29 L129.00,732.26 L129.50,732.24 L130.00,732.23 L130.27,732.22 M135.27,732.10 L135.50,732.09 L136.00,732.08 L136.50,732.08 L137.00,732.07 L137.50,732.06 L138.00,732.05 L138.50,732.04 L139.00,732.03 L139.50,732.02 L140.00,732.02 L140.50,732.01 L141.00,732.00 L141.50,732.00 L142.00,731.99 L142.50,731.98 L143.00,731.98 L143.50,731.97 L144.00,731.97 L144.50,731.96 L145.00,731.96 L145.50,731.96 L146.00,731.95 L146.50,731.95 L147.00,731.95 L147.50,731.95 L148.00,731.94 L148.50,731.94 L149.00,731.94 L149.50,731.94 L150.00,731.94 L150.50,731.94 L151.00,731.94 L151.31,731.94 M156.31,731.93 L156.50,731.93 L157.00,731.93 L157.50,731.93 L158.00,731.93 L158.50,731.93 L159.00,731.93 L159.50,731.93 L160.00,731.93 L160.50,731.93 L161.00,731.93 L161.50,731.93 L162.00,731.93 L162.50,731.93 L163.00,731.92 L163.50,731.92 L164.00,731.92 L164.50,731.92 L165.00,731.92 L165.50,731.92 L166.00,731.92 L166.50,731.92 L167.00,731.92 L167.50,731.92 L168.00,731.92 L168.50,731.92 L169.00,731.92 L169.50,731.92 L170.00,731.92 L170.50,731.92 L171.00,731.92 L171.50,731.92 L172.00,731.92 L172.35,731.92 M177.35,731.91 L177.50,731.91 L178.00,731.91 L178.50,731.91 L179.00,731.91 L179.50,731.91 L180.00,731.91 L180.50,731.91 L181.00,731.91 L181.50,731.91 L182.00,731.91 L182.50,731.91 L183.00,731.91 L183.50,731.91 L184.00,731.90 L184.50,731.90 L185.00,731.90 L185.50,731.90 L186.00,731.90 L186.50,731.90 L187.00,731.90 L187.50,731.90 L188.00,731.90 L188.50,731.90 L189.00,731.90 L189.50,731.90 L190.00,731.90 L190.50,731.90 L191.00,731.90 L191.50,731.90 L192.00,731.90 L192.50,731.90 L193.00,731.90 L193.39,731.90 M198.39,731.89 L198.50,731.89 L199.00,731.89 L199.50,731.89 L200.00,731.89 L200.50,731.89 L201.00,731.89 L201.50,731.89 L202.00,731.89 L202.50,731.89 L203.00,731.89 L203.50,731.89 L204.00,731.89 L204.50,731.89 L205.00,731.89 L205.50,731.89 L206.00,731.89 L206.50,731.89 L207.00,731.89 L207.50,731.88 L208.00,731.88 L208.50,731.88 L209.00,731.88 L209.50,731.88 L210.00,731.88 L210.50,731.88 L211.00,731.88 L211.50,731.88 L212.00,731.88 L212.50,731.88 L213.00,731.88 L213.50,731.88 L214.00,731.88 L214.43,731.88 M219.43,731.88 L219.50,731.88 L220.00,731.88 L220.50,731.87 L221.00,731.87 L221.50,731.87 L222.00,731.87 L222.50,731.87 L223.00,731.87 L223.50,731.87 L224.00,731.87 L224.50,731.87 L225.00,731.87 L225.50,731.87 L226.00,731.87 L226.50,731.87 L227.00,731.87 L227.50,731.87 L228.00,731.87 L228.50,731.87 L229.00,731.87 L229.50,731.87 L230.00,731.87 L230.50,731.87 L231.00,731.87 L231.50,731.87 L232.00,731.87 L232.50,731.87 L233.00,731.87 L233.50,731.87 L234.00,731.87 L234.50,731.87 L235.00,731.86 L235.47,731.86 M240.47,731.86 L240.50,731.86 L241.00,731.86 L241.50,731.86 L242.00,731.86 L242.50,731.86 L243.00,731.86 L243.50,731.86 L244.00,731.86 L244.50,731.86 L245.00,731.86 L245.50,731.86 L246.00,731.86 L246.50,731.86 L247.00,731.86 L247.50,731.86 L248.00,731.86 L248.50,731.86 L249.00,731.86 L249.50,731.86 L250.00,731.86 L250.50,731.85 L251.00,731.85 L251.50,731.85 L252.00,731.85 L252.50,731.85 L253.00,731.85 L253.50,731.85 L254.00,731.85 L254.50,731.85 L255.00,731.85 L255.50,731.85 L256.00,731.85 L256.50,731.85 L256.51,731.85 M261.51,731.85 L262.00,731.85 L262.50,731.85 L263.00,731.85 L263.50,731.85 L264.00,731.85 L264.50,731.85 L265.00,731.85 L265.50,731.85 L266.00,731.85 L266.50,731.85 L267.00,731.85 L267.50,731.85 L268.00,731.84 L268.50,731.84 L269.00,731.84 L269.50,731.84 L270.00,731.84 L270.50,731.84 L271.00,731.84 L271.50,731.84 L272.00,731.84 L272.50,731.84 L273.00,731.84 L273.50,731.84 L274.00,731.84 L274.50,731.84 L275.00,731.84 L275.50,731.84 L276.00,731.84 L276.50,731.84 L277.00,731.84 L277.50,731.84 L277.55,731.84 M282.55,731.84 L283.00,731.84 L283.50,731.84 L284.00,731.84 L284.50,731.84 L285.00,731.84 L285.50,731.84 L286.00,731.84 L286.50,731.84 L287.00,731.84 L287.50,731.84 L288.00,731.83 L288.50,731.83 L289.00,731.83 L289.50,731.83 L290.00,731.83 L290.50,731.83 L291.00,731.83 L291.50,731.83 L292.00,731.83 L292.50,731.83 L293.00,731.83 L293.50,731.83 L294.00,731.83 L294.50,731.83 L295.00,731.83 L295.50,731.83 L296.00,731.83 L296.50,731.83 L297.00,731.83 L297.50,731.83 L298.00,731.83 L298.50,731.83 L298.59,731.83 M303.59,731.83 L304.00,731.83 L304.50,731.83 L305.00,731.83 L305.50,731.83 L306.00,731.83 L306.50,731.83 L307.00,731.83 L307.50,731.83 L308.00,731.83 L308.50,731.83 L309.00,731.83 L309.50,731.83 L310.00,731.83 L310.50,731.83 L311.00,731.82 L311.50,731.82 L312.00,731.82 L312.50,731.82 L313.00,731.82 L313.50,731.82 L314.00,731.82 L314.50,731.82 L315.00,731.82 L315.50,731.82 L316.00,731.82 L316.50,731.82 L317.00,731.82 L317.50,731.82 L318.00,731.82 L318.50,731.82 L319.00,731.82 L319.50,731.82 L319.63,731.82 M324.63,731.82 L325.00,731.82 L325.50,731.82 L326.00,731.82 L326.50,731.82 L327.00,731.82 L327.50,731.82 L328.00,731.82 L328.50,731.82 L329.00,731.82 L329.50,731.82 L330.00,731.82 L330.50,731.82 L331.00,731.82 L331.50,731.82 L332.00,731.82 L332.50,731.82 L333.00,731.82 L333.50,731.82 L334.00,731.82 L334.50,731.82 L335.00,731.82 L335.50,731.82 L336.00,731.82 L336.50,731.82 L337.00,731.82 L337.50,731.82 L338.00,731.82 L338.50,731.82 L339.00,731.82 L339.50,731.82 L340.00,731.82 L340.50,731.81 L340.67,731.81 M345.67,731.81 L346.00,731.81 L346.50,731.81 L347.00,731.81 L347.50,731.81 L348.00,731.81 L348.50,731.81 L349.00,731.81 L349.50,731.81 L350.00,731.81 L350.50,731.81 L351.00,731.81 L351.50,731.81 L352.00,731.81 L352.50,731.81 L353.00,731.81 L353.50,731.81 L354.00,731.81 L354.50,731.81 L355.00,731.81 L355.50,731.81 L356.00,731.81 L356.50,731.81 L357.00,731.81 L357.50,731.81 L358.00,731.81 L358.50,731.81 L359.00,731.81 L359.50,731.81 L360.00,731.81 L360.50,731.81 L361.00,731.81 L361.50,731.81 L361.71,731.81 M366.71,731.81 L367.00,731.81 L367.50,731.81 L368.00,731.81 L368.50,731.81 L369.00,731.81 L369.50,731.81 L370.00,731.81 L370.50,731.81 L371.00,731.81 L371.50,731.81 L372.00,731.81 L372.50,731.81 L373.00,731.81 L373.50,731.81 L374.00,731.81 L374.50,731.81 L375.00,731.81 L375.50,731.81 L376.00,731.81 L376.50,731.81 L377.00,731.81 L377.50,731.81 L378.00,731.81 L378.50,731.81 L379.00,731.81 L379.50,731.81 L380.00,731.81 L380.50,731.81 L381.00,731.80 L381.50,731.80 L382.00,731.80 L382.50,731.80 L382.75,731.80 M387.75,731.80 L388.00,731.80 L388.50,731.80 L389.00,731.80 L389.50,731.80 L390.00,731.80 L390.50,731.80 L391.00,731.80 L391.50,731.80 L392.00,731.80 L392.50,731.80 L393.00,731.80 L393.50,731.80 L394.00,731.80 L394.50,731.80 L395.00,731.80 L395.50,731.80 L396.00,731.80 L396.50,731.80 L397.00,731.80 L397.50,731.80 L398.00,731.80 L398.50,731.80 L399.00,731.80 L399.50,731.80 L400.00,731.80 L400.50,731.80 L401.00,731.80 L401.50,731.80 L402.00,731.80 L402.50,731.80 L403.00,731.80 L403.50,731.80 L403.79,731.80 M408.79,731.80 L409.00,731.80 L409.50,731.80 L410.00,731.80 L410.50,731.80 L411.00,731.80 L411.50,731.80 L412.00,731.80 L412.50,731.80 L413.00,731.80 L413.50,731.80 L414.00,731.80 L414.50,731.80 L415.00,731.80 L415.50,731.80 L416.00,731.80 L416.50,731.80 L417.00,731.80 L417.50,731.80 L418.00,731.80 L418.50,731.80 L419.00,731.80 L419.50,731.80 L420.00,731.80 L420.50,731.80 L421.00,731.80 L421.50,731.80 L422.00,731.80 L422.50,731.80 L423.00,731.80 L423.50,731.80 L424.00,731.80 L424.50,731.80 L424.83,731.80 M429.83,731.80 L430.00,731.80 L430.50,731.80 L431.00,731.80 L431.50,731.80 L432.00,731.80 L432.50,731.80 L433.00,731.80 L433.50,731.80 L434.00,731.80 L434.50,731.80 L435.00,731.80 L435.50,731.80 L436.00,731.80 L436.50,731.80 L437.00,731.80 L437.50,731.80 L438.00,731.80 L438.50,731.80 L439.00,731.80 L439.50,731.80 L440.00,731.80 L440.50,731.80 L441.00,731.80 L441.50,731.80 L442.00,731.80 L442.50,731.80 L443.00,731.80 L443.50,731.80 L444.00,731.80 L444.50,731.80 L445.00,731.80 L445.50,731.80 L445.87,731.80 M450.87,731.80 L451.00,731.80 L451.50,731.80 L452.00,731.80 L452.50,731.80 L453.00,731.80 L453.50,731.80 L454.00,731.80 L454.50,731.80 L455.00,731.80 L455.50,731.80 L456.00,731.80 L456.50,731.80 L457.00,731.80 L457.50,731.80 L458.00,731.80 L458.50,731.80 L459.00,731.80 L459.50,731.80 L460.00,731.80 L460.50,731.80 L461.00,731.80 L461.50,731.80 L462.00,731.80 L462.50,731.80 L463.00,731.80 L463.50,731.80 L464.00,731.80 L464.50,731.80 L465.00,731.80 L465.50,731.80 L466.00,731.80 L466.50,731.80 L466.91,731.80 M471.91,731.80 L472.00,731.80 L472.50,731.80 L473.00,731.80 L473.50,731.80 L474.00,731.80 L474.50,731.80 L475.00,731.80 L475.50,731.80 L476.00,731.80 L476.50,731.80 L477.00,731.80 L477.50,731.80 L478.00,731.80 L478.50,731.80 L479.00,731.79 L479.50,731.79 L480.00,731.79 L480.50,731.79 L481.00,731.79 L481.50,731.79 L482.00,731.79 L482.50,731.79 L483.00,731.79 L483.50,731.79 L484.00,731.79 L484.50,731.79 L485.00,731.79 L485.50,731.79 L486.00,731.79 L486.50,731.79 L487.00,731.79 L487.50,731.79 L487.95,731.79 M492.95,731.79 L493.00,731.79 L493.50,731.79 L494.00,731.79 L494.50,731.79 L495.00,731.79 L495.50,731.79 L496.00,731.79 L496.50,731.79 L497.00,731.79 L497.50,731.79 L498.00,731.79 L498.50,731.79 L499.00,731.79 L499.50,731.79 L500.00,731.79 L500.50,731.79 L501.00,731.79 L501.50,731.79 L502.00,731.79 L502.50,731.79 L503.00,731.79 L503.50,731.79 L504.00,731.79 L504.50,731.79 L505.00,731.79 L505.50,731.79 L506.00,731.79 L506.50,731.79 L507.00,731.79 L507.50,731.79 L508.00,731.79 L508.50,731.79 L508.99,731.79" stroke="#2f2fc0" stroke-width="1.6"/>
<path d="M93.19,736.42 L93.50,736.43 L94.00,736.45 L94.50,736.46 L95.00,736.47 L95.50,736.49 L96.00,736.50 L96.50,736.52 L97.00,736.53 L97.50,736.55 L98.00,736.56 L98.50,736.58 L99.00,736.59 L99.50,736.61 L100.00,736.62 L100.50,736.64 L101.00,736.66 L101.50,736.67 L102.00,736.69 L102.50,736.70 L103.00,736.72 L103.50,736.74 L104.00,736.75 L104.50,736.77 L105.00,736.79 L105.50,736.81 L106.00,736.82 L106.50,736.84 L107.00,736.86 L107.50,736.88 L108.00,736.89 L108.50,736.91 L109.00,736.93 L109.23,736.94 M114.23,737.14 L114.50,737.15 L115.00,737.17 L115.50,737.19 L116.00,737.21 L116.50,737.24 L117.00,737.26 L117.50,737.28 L118.00,737.31 L118.50,737.33 L119.00,737.35 L119.50,737.38 L120.00,737.40 L120.50,737.42 L121.00,737.45 L121.50,737.47 L122.00,737.49 L122.50,737.52 L123.00,737.54 L123.50,737.56 L124.00,737.58 L124.50,737.61 L125.00,737.63 L125.50,737.65 L126.00,737.67 L126.50,737.69 L127.00,737.71 L127.50,737.73 L128.00,737.75 L128.50,737.77 L129.00,737.79 L129.50,737.81 L130.00,737.83 L130.27,737.84 M135.27,738.01 L135.50,738.02 L136.00,738.04 L136.50,738.06 L137.00,738.08 L137.50,738.09 L138.00,738.11 L138.50,738.13 L139.00,738.15 L139.50,738.16 L140.00,738.18 L140.50,738.20 L141.00,738.22 L141.50,738.23 L142.00,738.25 L142.50,738.27 L143.00,738.29 L143.50,738.30 L144.00,738.32 L144.50,738.34 L145.00,738.35 L145.50,738.37 L146.00,738.39 L146.50,738.40 L147.00,738.42 L147.50,738.44 L148.00,738.45 L148.50,738.47 L149.00,738.49 L149.50,738.50 L150.00,738.52 L150.50,738.53 L151.00,738.55 L151.31,738.56 M156.31,738.70 L156.50,738.71 L157.00,738.72 L157.50,738.73 L158.00,738.74 L158.50,738.76 L159.00,738.77 L159.50,738.78 L160.00,738.79 L160.50,738.81 L161.00,738.82 L161.50,738.83 L162.00,738.84 L162.50,738.85 L163.00,738.86 L163.50,738.87 L164.00,738.88 L164.50,738.89 L165.00,738.90 L165.50,738.91 L166.00,738.92 L166.50,738.93 L167.00,738.93 L167.50,738.94 L168.00,738.95 L168.50,738.96 L169.00,738.96 L169.50,738.97 L170.00,738.98 L170.50,738.98 L171.00,738.99 L171.50,738.99 L172.00,739.00 L172.35,739.00 M177.35,739.06 L177.50,739.07 L178.00,739.07 L178.50,739.08 L179.00,739.08 L179.50,739.09 L180.00,739.09 L180.50,739.10 L181.00,739.10 L181.50,739.11 L182.00,739.11 L182.50,739.12 L183.00,739.13 L183.50,739.13 L184.00,739.14 L184.50,739.14 L185.00,739.15 L185.50,739.15 L186.00,739.16 L186.50,739.16 L187.00,739.17 L187.50,739.17 L188.00,739.18 L188.50,739.18 L189.00,739.19 L189.50,739.19 L190.00,739.20 L190.50,739.20 L191.00,739.21 L191.50,739.21 L192.00,739.22 L192.50,739.22 L193.00,739.23 L193.39,739.23 M198.39,739.27 L198.50,739.27 L199.00,739.28 L199.50,739.28 L200.00,739.29 L200.50,739.29 L201.00,739.30 L201.50,739.30 L202.00,739.30 L202.50,739.31 L203.00,739.31 L203.50,739.32 L204.00,739.32 L204.50,739.32 L205.00,739.33 L205.50,739.33 L206.00,739.34 L206.50,739.34 L207.00,739.34 L207.50,739.35 L208.00,739.35 L208.50,739.35 L209.00,739.36 L209.50,739.36 L210.00,739.36 L210.50,739.37 L211.00,739.37 L211.50,739.38 L212.00,739.38 L212.50,739.38 L213.00,739.39 L213.50,739.39 L214.00,739.39 L214.43,739.40 M219.43,739.43 L219.50,739.43 L220.00,739.43 L220.50,739.43 L221.00,739.44 L221.50,739.44 L222.00,739.44 L222.50,739.44 L223.00,739.45 L223.50,739.45 L224.00,739.45 L224.50,739.46 L225.00,739.46 L225.50,739.46 L226.00,739.46 L226.50,739.47 L227.00,739.47 L227.50,739.47 L228.00,739.47 L228.50,739.48 L229.00,739.48 L229.50,739.48 L230.00,739.48 L230.50,739.49 L231.00,739.49 L231.50,739.49 L232.00,739.49 L232.50,739.49 L233.00,739.50 L233.50,739.50 L234.00,739.50 L234.50,739.50 L235.00,739.50 L235.47,739.51 M240.47,739.52 L240.50,739.52 L241.00,739.53 L241.50,739.53 L242.00,739.53 L242.50,739.53 L243.00,739.53 L243.50,739.53 L244.00,739.54 L244.50,739.54 L245.00,739.54 L245.50,739.54 L246.00,739.54 L246.50,739.54 L247.00,739.54 L247.50,739.55 L248.00,739.55 L248.50,739.55 L249.00,739.55 L249.50,739.55 L250.00,739.55 L250.50,739.55 L251.00,739.55 L251.50,739.55 L252.00,739.56 L252.50,739.56 L253.00,739.56 L253.50,739.56 L254.00,739.56 L254.50,739.56 L255.00,739.56 L255.50,739.56 L256.00,739.56 L256.50,739.56 L256.51,739.56 M261.51,739.58 L262.00,739.58 L262.50,739.58 L263.00,739.58 L263.50,739.58 L264.00,739.58 L264.50,739.58 L265.00,739.58 L265.50,739.58 L266.00,739.58 L266.50,739.59 L267.00,739.59 L267.50,739.59 L268.00,739.59 L268.50,739.59 L269.00,739.59 L269.50,739.59 L270.00,739.59 L270.50,739.59 L271.00,739.59 L271.50,739.60 L272.00,739.60 L272.50,739.60 L273.00,739.60 L273.50,739.60 L274.00,739.60 L274.50,739.60 L275.00,739.60 L275.50,739.60 L276.00,739.60 L276.50,739.61 L277.00,739.61 L277.50,739.61 L277.55,739.61 M282.55,739.62 L283.00,739.62 L283.50,739.62 L284.00,739.62 L284.50,739.62 L285.00,739.62 L285.50,739.62 L286.00,739.62 L286.50,739.62 L287.00,739.63 L287.50,739.63 L288.00,739.63 L288.50,739.63 L289.00,739.63 L289.50,739.63 L290.00,739.63 L290.50,739.63 L291.00,739.63 L291.50,739.63 L292.00,739.64 L292.50,739.64 L293.00,739.64 L293.50,739.64 L294.00,739.64 L294.50,739.64 L295.00,739.64 L295.50,739.64 L296.00,739.64 L296.50,739.64 L297.00,739.64 L297.50,739.65 L298.00,739.65 L298.50,739.65 L298.59,739.65 M303.59,739.66 L304.00,739.66 L304.50,739.66 L305.00,739.66 L305.50,739.66 L306.00,739.66 L306.50,739.66 L307.00,739.66 L307.50,739.66 L308.00,739.66 L308.50,739.66 L309.00,739.67 L309.50,739.67 L310.00,739.67 L310.50,739.67 L311.00,739.67 L311.50,739.67 L312.00,739.67 L312.50,739.67 L313.00,739.67 L313.50,739.67 L314.00,739.67 L314.50,739.67 L315.00,739.68 L315.50,739.68 L316.00,739.68 L316.50,739.68 L317.00,739.68 L317.50,739.68 L318.00,739.68 L318.50,739.68 L319.00,739.68 L319.50,739.68 L319.63,739.68 M324.63,739.69 L325.00,739.69 L325.50,739.69 L326.00,739.69 L326.50,739.69 L327.00,739.69 L327.50,739.70 L328.00,739.70 L328.50,739.70 L329.00,739.70 L329.50,739.70 L330.00,739.70 L330.50,739.70 L331.00,739.70 L331.50,739.70 L332.00,739.70 L332.50,739.70 L333.00,739.70 L333.50,739.70 L334.00,739.70 L334.50,739.71 L335.00,739.71 L335.50,739.71 L336.00,739.71 L336.50,739.71 L337.00,739.71 L337.50,739.71 L338.00,739.71 L338.50,739.71 L339.00,739.71 L339.50,739.71 L340.00,739.71 L340.50,739.71 L340.67,739.71 M345.67,739.72 L346.00,739.72 L346.50,739.72 L347.00,739.72 L347.50,739.72 L348.00,739.72 L348.50,739.73 L349.00,739.73 L349.50,739.73 L350.00,739.73 L350.50,739.73 L351.00,739.73 L351.50,739.73 L352.00,739.73 L352.50,739.73 L353.00,739.73 L353.50,739.73 L354.00,739.73 L354.50,739.73 L355.00,739.73 L355.50,739.73 L356.00,739.74 L356.50,739.74 L357.00,739.74 L357.50,739.74 L358.00,739.74 L358.50,739.74 L359.00,739.74 L359.50,739.74 L360.00,739.74 L360.50,739.74 L361.00,739.74 L361.50,739.74 L361.71,739.74 M366.71,739.75 L367.00,739.75 L367.50,739.75 L368.00,739.75 L368.50,739.75 L369.00,739.75 L369.50,739.75 L370.00,739.75 L370.50,739.75 L371.00,739.75 L371.50,739.75 L372.00,739.76 L372.50,739.76 L373.00,739.76 L373.50,739.76 L374.00,739.76 L374.50,739.76 L375.00,739.76 L375.50,739.76 L376.00,739.76 L376.50,739.76 L377.00,739.76 L377.50,739.76 L378.00,739.76 L378.50,739.76 L379.00,739.76 L379.50,739.76 L380.00,739.76 L380.50,739.77 L381.00,739.77 L381.50,739.77 L382.00,739.77 L382.50,739.77 L382.75,739.77 M387.75,739.77 L388.00,739.77 L388.50,739.77 L389.00,739.77 L389.50,739.77 L390.00,739.78 L390.50,739.78 L391.00,739.78 L391.50,739.78 L392.00,739.78 L392.50,739.78 L393.00,739.78 L393.50,739.78 L394.00,739.78 L394.50,739.78 L395.00,739.78 L395.50,739.78 L396.00,739.78 L396.50,739.78 L397.00,739.78 L397.50,739.78 L398.00,739.78 L398.50,739.78 L399.00,739.78 L399.50,739.78 L400.00,739.78 L400.50,739.79 L401.00,739.79 L401.50,739.79 L402.00,739.79 L402.50,739.79 L403.00,739.79 L403.50,739.79 L403.79,739.79 M408.79,739.79 L409.00,739.79 L409.50,739.79 L410.00,739.79 L410.50,739.79 L411.00,739.79 L411.50,739.80 L412.00,739.80 L412.50,739.80 L413.00,739.80 L413.50,739.80 L414.00,739.80 L414.50,739.80 L415.00,739.80 L415.50,739.80 L416.00,739.80 L416.50,739.80 L417.00,739.80 L417.50,739.80 L418.00,739.80 L418.50,739.80 L419.00,739.80 L419.50,739.80 L420.00,739.80 L420.50,739.80 L421.00,739.80 L421.50,739.80 L422.00,739.80 L422.50,739.80 L423.00,739.80 L423.50,739.80 L424.00,739.81 L424.50,739.81 L424.83,739.81 M429.83,739.81 L430.00,739.81 L430.50,739.81 L431.00,739.81 L431.50,739.81 L432.00,739.81 L432.50,739.81 L433.00,739.81 L433.50,739.81 L434.00,739.81 L434.50,739.81 L435.00,739.81 L435.50,739.81 L436.00,739.81 L436.50,739.81 L437.00,739.81 L437.50,739.81 L438.00,739.81 L438.50,739.82 L439.00,739.82 L439.50,739.82 L440.00,739.82 L440.50,739.82 L441.00,739.82 L441.50,739.82 L442.00,739.82 L442.50,739.82 L443.00,739.82 L443.50,739.82 L444.00,739.82 L444.50,739.82 L445.00,739.82 L445.50,739.82 L445.87,739.82 M450.87,739.82 L451.00,739.82 L451.50,739.82 L452.00,739.82 L452.50,739.82 L453.00,739.82 L453.50,739.82 L454.00,739.82 L454.50,739.82 L455.00,739.82 L455.50,739.82 L456.00,739.82 L456.50,739.82 L457.00,739.83 L457.50,739.83 L458.00,739.83 L458.50,739.83 L459.00,739.83 L459.50,739.83 L460.00,739.83 L460.50,739.83 L461.00,739.83 L461.50,739.83 L462.00,739.83 L462.50,739.83 L463.00,739.83 L463.50,739.83 L464.00,739.83 L464.50,739.83 L465.00,739.83 L465.50,739.83 L466.00,739.83 L466.50,739.83 L466.91,739.83 M471.91,739.83 L472.00,739.83 L472.50,739.83 L473.00,739.83 L473.50,739.83 L474.00,739.83 L474.50,739.83 L475.00,739.83 L475.50,739.83 L476.00,739.83 L476.50,739.83 L477.00,739.83 L477.50,739.83 L478.00,739.83 L478.50,739.83 L479.00,739.83 L479.50,739.83 L480.00,739.83 L480.50,739.83 L481.00,739.83 L481.50,739.83 L482.00,739.83 L482.50,739.83 L483.00,739.83 L483.50,739.83 L484.00,739.83 L484.50,739.83 L485.00,739.83 L485.50,739.83 L486.00,739.84 L486.50,739.84 L487.00,739.84 L487.50,739.84 L487.95,739.84 M492.95,739.84 L493.00,739.84 L493.50,739.84 L494.00,739.84 L494.50,739.84 L495.00,739.84 L495.50,739.84 L496.00,739.84 L496.50,739.84 L497.00,739.84 L497.50,739.84 L498.00,739.84 L498.50,739.84 L499.00,739.84 L499.50,739.84 L500.00,739.84 L500.50,739.84 L501.00,739.84 L501.50,739.84 L502.00,739.84 L502.50,739.84 L503.00,739.84 L503.50,739.84 L504.00,739.84 L504.50,739.84 L505.00,739.84 L505.50,739.84 L506.00,739.84 L506.50,739.84 L507.00,739.84 L507.50,739.84 L508.00,739.84 L508.50,739.84 L508.99,739.84" stroke="#e8141c" stroke-width="1.6"/>
<polyline points="92.00,736.39 92.40,736.39 92.80,736.39 93.20,736.39 93.60,736.39 94.00,736.39 94.40,736.39 94.80,736.39 95.20,736.39 95.60,736.39 96.00,736.39 96.40,736.39 96.80,736.39 97.20,736.39 97.60,736.39 98.00,736.39 98.40,736.39 98.80,736.39 99.20,736.39 99.60,736.39 100.00,736.39 100.40,736.39 100.80,736.39 101.20,736.39 101.60,736.39 102.00,736.39 102.40,736.39 102.80,736.39 103.20,736.39 103.60,736.39 104.00,736.39 104.40,736.39 104.80,736.39 105.20,736.39 105.60,736.39 106.00,736.39 106.40,736.39 106.80,736.39 107.20,736.39 107.60,736.39 108.00,736.39 108.40,736.39 108.80,736.39 109.20,736.39 109.60,736.39 110.00,736.39 110.40,736.39 110.80,736.39 111.20,736.39 111.60,736.39 112.00,736.39 112.40,736.39 112.80,736.39 113.20,736.39 113.60,736.39 114.00,736.39 114.40,736.39 114.80,736.39 115.20,736.39 115.60,736.39 116.00,736.39 116.40,736.39 116.80,736.39 117.20,736.39 117.60,736.39 118.00,736.39 118.40,736.39 118.80,736.39 119.20,736.39 119.60,736.39 120.00,736.39 120.40,736.39 120.80,736.39 121.20,736.39 121.60,736.39 122.00,736.39 122.40,736.39 122.80,736.39 123.20,736.39 123.60,736.39 124.00,736.39 124.40,736.39 124.80,736.39 125.20,736.39 125.60,736.39 126.00,736.39 126.40,736.39 126.80,736.39 127.20,736.39 127.60,736.39 128.00,736.39 128.40,736.39 128.80,736.39 129.20,736.39 129.60,737.11 130.00,739.09 130.40,740.36 130.80,741.29 131.20,741.55 131.60,741.33 132.00,740.91 132.40,740.43 132.80,740.00 133.20,739.71 133.60,739.46 134.00,739.22 134.40,738.99 134.80,738.78 135.20,738.57 135.60,738.38 136.00,738.19 136.40,738.02 136.80,737.85 137.20,737.70 137.60,737.55 138.00,737.41 138.40,737.28 138.80,737.16 139.20,737.04 139.60,736.92 140.00,736.81 140.40,736.70 140.80,736.59 141.20,736.48 141.60,736.38 142.00,736.28 142.40,736.18 142.80,736.09 143.20,735.99 143.60,735.90 144.00,735.81 144.40,735.73 144.80,735.64 145.20,735.56 145.60,735.48 146.00,735.41 146.40,735.33 146.80,735.26 147.20,735.19 147.60,735.12 148.00,735.05 148.40,734.99 148.80,734.93 149.20,734.87 149.60,734.81 150.00,734.82 151.24,734.72 152.91,734.62 154.88,734.40 156.65,733.02 157.99,734.41 159.56,735.72 160.97,733.53 162.50,733.38 164.39,732.41 165.95,732.97 167.62,735.04 169.46,736.04 171.03,733.70 172.37,735.34 174.22,733.75 175.56,737.00 177.18,737.28 179.03,734.09 180.26,737.09 182.08,733.63 183.65,734.73 185.22,733.90 186.80,738.44 188.13,737.14 189.52,737.57 190.83,737.25 192.44,736.79 193.89,736.60 195.16,737.30 196.58,737.23 198.05,737.93 199.84,735.21 201.15,737.96 203.11,735.82 204.87,735.92 206.11,736.82 207.71,736.59 209.39,736.13 210.88,738.17 212.15,736.99 213.99,736.80 215.41,738.91 216.61,737.95 218.02,738.11 219.24,737.73 220.69,736.93 222.65,736.64 223.87,736.45 225.10,733.70 227.09,737.91 228.65,734.52 230.45,736.53 232.14,736.98 233.68,737.65 235.29,736.16 236.96,737.94 238.81,739.80 240.63,737.26 242.31,736.96 244.01,730.51 245.48,740.46 246.92,738.47 248.16,737.47 249.70,738.40 251.39,738.17 253.16,737.98 255.15,738.08 256.44,736.75 257.90,737.11 259.82,736.75 261.05,734.84 262.86,736.19 264.83,737.37 266.71,736.64 268.70,738.20 269.96,736.56 271.89,738.13 273.45,737.50 275.36,735.33 277.04,738.31 278.59,735.61 279.97,738.15 281.66,738.26 283.18,735.73 284.42,739.51 285.81,738.93 287.24,735.62 288.61,737.46 289.94,736.71 291.29,738.54 293.22,736.28 295.12,736.87 296.92,737.12 298.75,737.35 300.65,738.40 302.38,732.08 303.98,737.53 306.08,735.63 307.65,737.98 309.71,736.12 311.95,743.24 313.33,740.38 315.56,743.64 317.26,732.56 319.39,735.94 320.96,736.95 322.52,729.89 323.92,741.68 325.51,734.10 326.87,736.49 328.23,739.99 329.96,733.24 332.20,740.99 333.83,727.69 335.29,730.31 336.92,736.11 339.05,741.00 340.60,745.86 342.46,739.48 344.71,734.03 346.13,735.08 347.83,739.48 349.44,741.02 350.97,747.06 352.52,731.89 354.38,738.97 356.25,738.87 357.84,738.95 359.19,741.62 361.43,744.82 363.33,732.87 364.91,730.13 367.07,759.61 369.18,732.97 371.19,745.33 372.84,751.41 374.40,745.96 376.07,744.45 378.08,741.61 379.88,751.86 381.67,742.48 383.52,736.41 385.67,737.22 387.25,751.40 389.32,726.60 390.96,742.14 392.55,748.21 394.12,739.71 395.65,724.66 397.57,735.51 399.28,733.25 401.23,737.22 402.49,739.96 403.59,751.35 405.33,734.36 406.81,750.53 408.53,742.27 409.69,755.80 411.28,738.22 412.61,747.22 413.84,759.96 415.04,742.33 416.36,750.06 418.04,725.89 419.60,743.04 421.21,758.13 422.86,740.74 424.38,741.82 425.76,726.36 427.45,728.34 429.06,739.45 430.68,746.34 432.26,739.72 433.51,742.18 434.86,735.52 436.41,734.80 437.51,731.65 438.70,749.10 440.20,735.63 441.73,746.32 443.43,734.02 444.80,742.92 446.25,741.12 447.99,737.71 449.37,741.15 450.57,734.05 452.05,747.14 453.41,755.31 454.63,739.66 455.99,740.80 457.42,736.11 458.80,741.32 459.92,734.82 461.12,729.69 462.48,748.88 463.86,759.31 465.29,736.99 466.84,747.28 468.21,744.91 469.75,740.77 471.35,738.37 473.03,736.16 474.71,728.95 476.44,735.53 478.24,734.94 479.89,739.51 481.35,736.91 482.57,733.18 483.84,731.49 485.55,745.23 487.08,747.45 488.76,737.93 489.88,750.03 491.58,741.87 493.33,733.98 494.78,733.45 496.40,729.51 498.14,752.39 499.44,733.42 501.03,731.12 502.56,734.85 503.69,732.59 505.05,726.94 506.85,740.74 508.39,758.07 510.15,737.53 511.44,746.68 512.74,740.07" stroke="#e8141c" stroke-width="1.4"/>
<polyline points="128.50,736.39 128.90,736.39 129.30,736.39 129.70,714.95 130.10,678.94 130.50,642.23 130.90,627.61 131.30,634.58 131.70,643.76 132.10,653.58 132.50,664.67 132.90,676.28 133.30,687.69 133.70,698.99 134.10,711.06 134.50,722.47 134.90,731.72 135.30,738.38 135.70,743.97 136.10,747.85 136.50,749.98 136.90,751.70 137.30,752.90 137.70,753.34 138.10,753.02 138.50,752.20 138.90,751.08 139.30,749.88 139.70,748.75 140.10,747.47 140.50,746.03 140.90,744.49 141.30,742.88 141.70,741.26 142.10,739.66 142.50,738.13 142.90,736.72 143.30,735.40 143.70,734.04 144.10,732.66 144.50,731.30 144.90,729.98 145.30,728.72 145.70,727.57 146.10,726.56 146.50,725.70 146.90,725.03 147.30,724.52 147.70,724.04 148.10,723.57 148.50,723.14 148.90,722.75 149.30,722.41 149.70,722.13 150.10,721.92 150.50,721.79 150.90,721.74 151.30,721.82 151.70,722.06 152.10,722.43 152.50,722.92 152.90,723.50 153.30,724.15 153.70,724.85 154.10,725.59 154.50,726.34 154.90,727.22 155.30,728.34 155.70,729.65 156.10,731.12 156.50,732.69 156.90,734.34 157.30,736.00 157.70,737.64 158.10,739.23 158.50,740.70 158.90,742.17 159.30,743.73 159.70,745.34 160.10,746.96 160.50,748.55 160.90,750.06 161.30,751.45 161.70,752.68 162.10,753.71 162.50,754.49 162.90,755.13 163.30,755.76 163.70,756.32 164.10,756.80 164.50,757.15 164.90,757.34 165.30,757.35 165.70,757.26 166.10,757.08 166.50,756.83 166.90,756.51 167.30,756.15 167.70,755.73 168.10,755.29 168.50,754.83 168.90,754.35 169.30,753.87 169.70,753.40 170.10,752.94 170.50,752.45 170.90,751.92 171.30,751.36 171.70,750.75 172.10,750.12 172.50,749.46 172.90,748.79 173.30,748.11 173.70,747.41 174.10,746.72 174.50,746.03 174.90,745.35 175.30,744.69 175.70,744.04 176.10,743.42 176.50,742.79 176.90,742.16 177.30,741.51 177.70,740.86 178.10,740.20 178.50,739.55 178.90,738.91 179.30,738.28 179.70,737.67 180.00,734.96 181.59,735.49 182.88,740.87 184.20,731.56 185.47,730.60 187.05,728.77 189.01,729.74 190.85,729.10 192.28,729.34 193.93,730.32 195.18,731.82 197.13,726.43 198.94,725.84 200.73,725.99 202.22,727.78 203.92,726.57 205.79,723.84 207.55,727.12 209.20,731.99 210.57,736.50 211.84,740.76 213.54,748.16 215.47,756.70 217.41,760.07 219.05,759.60 220.35,763.84 221.74,757.69 223.69,756.31 225.00,750.84 226.97,745.52 228.21,740.91 230.09,735.03 231.33,728.63 233.29,726.15 235.25,721.97 236.61,718.27 238.00,719.23 239.44,718.11 241.10,719.13 242.72,720.29 244.11,719.93 245.42,724.38 247.01,723.15 248.74,729.69 249.96,731.73 251.91,736.71 253.58,738.18 255.30,745.81 256.93,750.15 258.38,749.13 259.97,752.80 261.62,757.84 263.53,756.06 264.89,759.09 266.79,756.11 268.51,754.85 269.81,755.64 271.38,751.73 272.80,749.50 274.57,742.37 276.47,737.37 277.99,731.92 279.32,730.38 280.80,727.75 282.78,719.80 284.16,714.26 285.73,716.18 287.69,716.88 289.13,719.26 290.50,720.59 291.94,724.86 293.60,725.18 295.24,726.45 296.47,728.36 298.01,731.78 299.25,733.60 300.81,737.48 302.19,735.64 303.86,745.59 305.75,745.90 307.10,745.21 308.90,754.75 310.46,752.47 311.76,748.13 313.01,752.71 314.76,743.50 316.67,736.15 318.16,733.80 320.03,731.88 321.84,724.74 323.17,720.60 324.55,719.56 326.38,708.58 327.69,719.26 328.97,718.09 330.85,721.20 332.45,716.83 334.35,721.76 335.71,722.36 337.06,721.47 338.47,728.83 340.38,730.89 342.05,730.09 343.57,730.05 345.15,733.02 347.14,741.67 348.95,743.12 350.50,746.78 352.08,749.72 353.47,752.59 355.00,753.61 356.61,751.69 357.83,756.61 359.78,747.14 361.72,757.59 363.67,751.69 365.40,743.56 366.86,753.87 368.45,742.78 370.36,727.87 371.88,722.98 373.22,714.82 375.05,708.24 376.91,717.91 378.17,718.42 379.87,729.10 381.29,738.49 382.83,742.84 384.04,712.79 385.25,737.60 386.94,733.10 388.48,742.52 389.60,735.14 391.32,732.06 392.88,718.86 394.65,728.12 396.34,740.29 397.48,718.46 398.89,729.79 400.19,716.34 401.35,729.57 403.14,736.26 404.66,728.67 406.38,735.47 408.03,715.91 409.79,724.71 411.52,722.92 412.94,723.14 414.35,747.67 415.56,742.42 416.97,744.40 418.36,721.88 419.56,746.40 420.65,733.97 422.31,718.81 423.68,721.68 425.46,728.45 427.19,727.55 428.54,737.82 429.93,760.77 431.11,738.10 432.58,706.71 434.30,730.67 435.76,745.11 437.05,740.00 438.32,717.79 439.71,752.37 440.99,752.48 442.21,748.76 443.83,744.87 445.47,706.69 447.18,723.93 448.70,739.11 450.43,727.42 452.15,725.89 453.61,715.43 455.01,724.64 456.38,730.01 457.71,731.77 459.18,743.65 460.34,721.56 462.07,705.01 463.32,711.14 464.70,728.52 466.40,727.59 468.02,706.75 469.26,756.73 470.69,725.00 472.20,746.25 473.61,739.33 475.13,706.43 476.80,732.52 478.57,749.86 479.94,737.20 481.46,717.75 482.77,726.10 484.16,753.87 485.55,728.42 487.02,709.83 488.80,760.33 490.51,721.96 492.04,756.67 493.81,743.64 494.96,727.60 496.36,731.62 497.62,747.32 498.81,758.63 500.04,735.34 501.29,738.87 503.03,750.43 504.30,757.11 505.71,727.39 507.05,736.99 508.63,722.96 509.94,703.48 511.42,741.64 512.89,743.94" stroke="#2f2fc0" stroke-width="1.4"/>
</g>
<g stroke="#333" stroke-width="1.8" stroke-dasharray="16 5.1">
<line x1="127.8" y1="219.6" x2="127.8" y2="8.8"/>
<line x1="127.8" y1="535.3" x2="127.8" y2="219.6"/>
<line x1="127.8" y1="851.3" x2="127.8" y2="535.3"/>
</g>
<path d="M113.06 8.80V12.30 M134.12 8.80V12.30 M155.18 8.80V12.30 M176.24 8.80V12.30 M197.30 8.80V15.30 M218.36 8.80V12.30 M239.42 8.80V12.30 M260.48 8.80V12.30 M281.54 8.80V12.30 M302.60 8.80V15.30 M323.66 8.80V12.30 M344.72 8.80V12.30 M365.78 8.80V12.30 M386.84 8.80V12.30 M407.90 8.80V15.30 M428.96 8.80V12.30 M450.02 8.80V12.30 M471.08 8.80V12.30 M492.14 8.80V12.30 M113.06 219.60V223.10 M134.12 219.60V223.10 M155.18 219.60V223.10 M176.24 219.60V223.10 M197.30 219.60V226.10 M218.36 219.60V223.10 M239.42 219.60V223.10 M260.48 219.60V223.10 M281.54 219.60V223.10 M302.60 219.60V226.10 M323.66 219.60V223.10 M344.72 219.60V223.10 M365.78 219.60V223.10 M386.84 219.60V223.10 M407.90 219.60V226.10 M428.96 219.60V223.10 M450.02 219.60V223.10 M471.08 219.60V223.10 M492.14 219.60V223.10 M113.06 535.30V538.80 M134.12 535.30V538.80 M155.18 535.30V538.80 M176.24 535.30V538.80 M197.30 535.30V541.80 M218.36 535.30V538.80 M239.42 535.30V538.80 M260.48 535.30V538.80 M281.54 535.30V538.80 M302.60 535.30V541.80 M323.66 535.30V538.80 M344.72 535.30V538.80 M365.78 535.30V538.80 M386.84 535.30V538.80 M407.90 535.30V541.80 M428.96 535.30V538.80 M450.02 535.30V538.80 M471.08 535.30V538.80 M492.14 535.30V538.80 M92.00 851.30V857.80 M113.06 851.30V854.80 M134.12 851.30V854.80 M155.18 851.30V854.80 M176.24 851.30V854.80 M197.30 851.30V857.80 M218.36 851.30V854.80 M239.42 851.30V854.80 M260.48 851.30V854.80 M281.54 851.30V854.80 M302.60 851.30V857.80 M323.66 851.30V854.80 M344.72 851.30V854.80 M365.78 851.30V854.80 M386.84 851.30V854.80 M407.90 851.30V857.80 M428.96 851.30V854.80 M450.02 851.30V854.80 M471.08 851.30V854.80 M492.14 851.30V854.80 M513.20 851.30V857.80 M85.50 219.60H92.00 M506.70 219.60H513.20 M88.50 209.06H92.00 M509.70 209.06H513.20 M88.50 198.52H92.00 M509.70 198.52H513.20 M88.50 187.98H92.00 M509.70 187.98H513.20 M88.50 177.44H92.00 M509.70 177.44H513.20 M85.50 166.90H92.00 M506.70 166.90H513.20 M88.50 156.36H92.00 M509.70 156.36H513.20 M88.50 145.82H92.00 M509.70 145.82H513.20 M88.50 135.28H92.00 M509.70 135.28H513.20 M88.50 124.74H92.00 M509.70 124.74H513.20 M85.50 114.20H92.00 M506.70 114.20H513.20 M88.50 103.66H92.00 M509.70 103.66H513.20 M88.50 93.12H92.00 M509.70 93.12H513.20 M88.50 82.58H92.00 M509.70 82.58H513.20 M88.50 72.04H92.00 M509.70 72.04H513.20 M85.50 61.50H92.00 M506.70 61.50H513.20 M88.50 50.96H92.00 M509.70 50.96H513.20 M88.50 40.42H92.00 M509.70 40.42H513.20 M88.50 29.88H92.00 M509.70 29.88H513.20 M88.50 19.34H92.00 M509.70 19.34H513.20 M85.50 8.80H92.00 M506.70 8.80H513.20 M88.50 521.57H92.00 M509.70 521.57H513.20 M88.50 507.85H92.00 M509.70 507.85H513.20 M88.50 494.12H92.00 M509.70 494.12H513.20 M85.50 480.40H92.00 M506.70 480.40H513.20 M88.50 466.67H92.00 M509.70 466.67H513.20 M88.50 452.94H92.00 M509.70 452.94H513.20 M88.50 439.22H92.00 M509.70 439.22H513.20 M88.50 425.49H92.00 M509.70 425.49H513.20 M85.50 411.77H92.00 M506.70 411.77H513.20 M88.50 398.04H92.00 M509.70 398.04H513.20 M88.50 384.31H92.00 M509.70 384.31H513.20 M88.50 370.59H92.00 M509.70 370.59H513.20 M88.50 356.86H92.00 M509.70 356.86H513.20 M85.50 343.13H92.00 M506.70 343.13H513.20 M88.50 329.41H92.00 M509.70 329.41H513.20 M88.50 315.68H92.00 M509.70 315.68H513.20 M88.50 301.96H92.00 M509.70 301.96H513.20 M88.50 288.23H92.00 M509.70 288.23H513.20 M85.50 274.50H92.00 M506.70 274.50H513.20 M88.50 260.78H92.00 M509.70 260.78H513.20 M88.50 247.05H92.00 M509.70 247.05H513.20 M88.50 233.33H92.00 M509.70 233.33H513.20 M88.50 851.30H92.00 M509.70 851.30H513.20 M88.50 836.94H92.00 M509.70 836.94H513.20 M88.50 822.57H92.00 M509.70 822.57H513.20 M85.50 808.21H92.00 M506.70 808.21H513.20 M88.50 793.85H92.00 M509.70 793.85H513.20 M88.50 779.48H92.00 M509.70 779.48H513.20 M88.50 765.12H92.00 M509.70 765.12H513.20 M88.50 750.75H92.00 M509.70 750.75H513.20 M85.50 736.39H92.00 M506.70 736.39H513.20 M88.50 722.03H92.00 M509.70 722.03H513.20 M88.50 707.66H92.00 M509.70 707.66H513.20 M88.50 693.30H92.00 M509.70 693.30H513.20 M88.50 678.94H92.00 M509.70 678.94H513.20 M85.50 664.57H92.00 M506.70 664.57H513.20 M88.50 650.21H92.00 M509.70 650.21H513.20 M88.50 635.85H92.00 M509.70 635.85H513.20 M88.50 621.48H92.00 M509.70 621.48H513.20 M88.50 607.12H92.00 M509.70 607.12H513.20 M85.50 592.75H92.00 M506.70 592.75H513.20 M88.50 578.39H92.00 M509.70 578.39H513.20 M88.50 564.03H92.00 M509.70 564.03H513.20 M88.50 549.66H92.00 M509.70 549.66H513.20" stroke="#2e2e2e" stroke-width="1.3" fill="none"/>
<path d="M85.50 8.8H513.2 M85.50 219.6H513.2 M92.00 535.3H513.2 M92.00 851.3H513.2 M92.0 8.8V857.8 M513.2 8.8V857.8" stroke="#2e2e2e" stroke-width="1.45" fill="none" stroke-linecap="butt"/>
<g font-family="'Liberation Sans', Arial, Helvetica, sans-serif" fill="#000">
<text transform="translate(74,227.55) scale(1,1.04)" font-size="23.5" text-anchor="end">0.0</text>
<text transform="translate(74,174.85) scale(1,1.04)" font-size="23.5" text-anchor="end">0.5</text>
<text transform="translate(74,122.15) scale(1,1.04)" font-size="23.5" text-anchor="end">1.0</text>
<text transform="translate(74,69.45) scale(1,1.04)" font-size="23.5" text-anchor="end">1.5</text>
<text transform="translate(74,16.75) scale(1,1.04)" font-size="23.5" text-anchor="end">2.0</text>
<text transform="translate(74,282.45) scale(1,1.04)" font-size="23.5" text-anchor="end">50</text>
<text transform="translate(74,600.70) scale(1,1.04)" font-size="23.5" text-anchor="end">50</text>
<text transform="translate(74,351.08) scale(1,1.04)" font-size="23.5" text-anchor="end">25</text>
<text transform="translate(74,672.52) scale(1,1.04)" font-size="23.5" text-anchor="end">25</text>
<text transform="translate(74,419.71) scale(1,1.04)" font-size="23.5" text-anchor="end">0</text>
<text transform="translate(74,744.34) scale(1,1.04)" font-size="23.5" text-anchor="end">0</text>
<text transform="translate(74,488.35) scale(1,1.04)" font-size="23.5" text-anchor="end">-25</text>
<text transform="translate(74,816.16) scale(1,1.04)" font-size="23.5" text-anchor="end">-25</text>
<text transform="translate(92.00,897.8) scale(0.97,1.05)" font-size="29" text-anchor="middle">0</text>
<text transform="translate(197.30,897.8) scale(0.97,1.05)" font-size="29" text-anchor="middle">1</text>
<text transform="translate(302.60,897.8) scale(0.97,1.05)" font-size="29" text-anchor="middle">2</text>
<text transform="translate(407.90,897.8) scale(0.97,1.05)" font-size="29" text-anchor="middle">3</text>
<text transform="translate(513.20,897.8) scale(0.97,1.05)" font-size="29" text-anchor="middle">4</text>
<text x="302.5" y="956" font-size="26.5" font-weight="bold" text-anchor="middle"><tspan font-style="italic">r</tspan> (nm)</text>
<text transform="translate(19.9,110.7) rotate(-90)" font-size="26" font-weight="bold" text-anchor="middle"><tspan font-style="italic">g</tspan>(<tspan font-style="italic">r</tspan>)</text>
<text transform="translate(26,466.1) rotate(-90)" font-size="27" font-weight="bold" xml:space="preserve"><tspan font-style="italic">r</tspan><tspan font-size="17" dy="-13.5">3</tspan><tspan font-style="italic" dy="13.5">B</tspan>  (10<tspan font-size="17" dy="-13.5">-3</tspan><tspan dy="13.5"> nm</tspan><tspan font-size="17" dy="-13.5">3</tspan><tspan dy="13.5">)</tspan></text>
<text transform="translate(26,772.1) rotate(-90)" font-size="27" font-weight="bold" xml:space="preserve"><tspan font-style="italic">r</tspan><tspan font-size="17" dy="-13.5">3</tspan><tspan font-style="italic" dy="13.5">B</tspan> (10<tspan font-size="17" dy="-13.5">-3</tspan><tspan dy="13.5"> nm</tspan><tspan font-size="17" dy="-13.5">3</tspan><tspan dy="13.5">)</tspan></text>
<text x="445.55" y="51.2" font-size="26.3" font-weight="bold">(a)</text>
<text x="447.25" y="260.3" font-size="26.3" font-weight="bold">(b)</text>
<text x="446.25" y="575.3" font-size="26.3" font-weight="bold">(c)</text>
<text x="247.85" y="53.85" font-size="26.5">(CH<tspan font-size="17" dy="8.6">3</tspan><tspan dy="-8.6">)</tspan><tspan font-size="17" dy="8.6">2</tspan><tspan dy="-8.6">SO</tspan></text>
<text x="349.6" y="255.75" font-size="25" letter-spacing="0.75">5.21 D</text>
<text x="379" y="582.2" font-size="26.4">LP</text>
<text x="412.25" y="288.8" font-size="27" fill="#0c0cd8">L</text>
<text x="421" y="492" font-size="27" fill="#dc0a14">T</text>
<text x="451.05" y="694.3" font-size="27" fill="#0c0cd8">L</text>
<text x="461.5" y="786.8" font-size="27" fill="#dc0a14">T</text>
</g>
</svg>
</body></html>
